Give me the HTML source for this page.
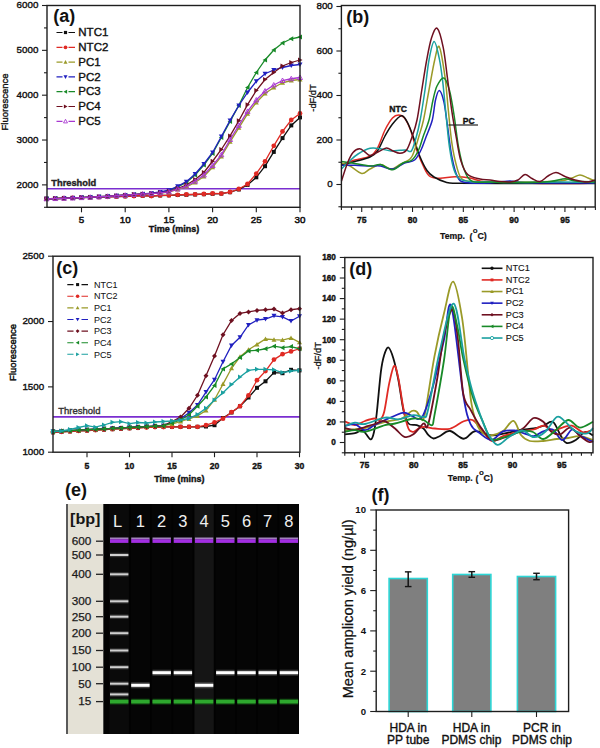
<!DOCTYPE html>
<html><head><meta charset="utf-8"><style>
html,body{margin:0;padding:0;background:#fff;width:600px;height:748px;overflow:hidden}
svg{display:block}
text{font-family:"Liberation Sans", sans-serif}
</style></head><body>
<svg width="600" height="748" viewBox="0 0 600 748" font-family='"Liberation Sans", sans-serif'>
<rect width="600" height="748" fill="#fff"/>
<line x1="44.00" y1="207.30" x2="47.00" y2="207.30" stroke="#1e1e1e" stroke-width="1.1" />
<line x1="42.00" y1="184.88" x2="47.00" y2="184.88" stroke="#1e1e1e" stroke-width="1.1" />
<text x="38.40" y="187.78" font-size="9.8" font-weight="normal" text-anchor="end" fill="#111" stroke="#111" stroke-width="0.38" >2000</text>
<line x1="44.00" y1="162.46" x2="47.00" y2="162.46" stroke="#1e1e1e" stroke-width="1.1" />
<line x1="42.00" y1="140.03" x2="47.00" y2="140.03" stroke="#1e1e1e" stroke-width="1.1" />
<text x="38.40" y="142.93" font-size="9.8" font-weight="normal" text-anchor="end" fill="#111" stroke="#111" stroke-width="0.38" >3000</text>
<line x1="44.00" y1="117.61" x2="47.00" y2="117.61" stroke="#1e1e1e" stroke-width="1.1" />
<line x1="42.00" y1="95.19" x2="47.00" y2="95.19" stroke="#1e1e1e" stroke-width="1.1" />
<text x="38.40" y="98.09" font-size="9.8" font-weight="normal" text-anchor="end" fill="#111" stroke="#111" stroke-width="0.38" >4000</text>
<line x1="44.00" y1="72.77" x2="47.00" y2="72.77" stroke="#1e1e1e" stroke-width="1.1" />
<line x1="42.00" y1="50.34" x2="47.00" y2="50.34" stroke="#1e1e1e" stroke-width="1.1" />
<text x="38.40" y="53.24" font-size="9.8" font-weight="normal" text-anchor="end" fill="#111" stroke="#111" stroke-width="0.38" >5000</text>
<line x1="44.00" y1="27.92" x2="47.00" y2="27.92" stroke="#1e1e1e" stroke-width="1.1" />
<line x1="42.00" y1="5.50" x2="47.00" y2="5.50" stroke="#1e1e1e" stroke-width="1.1" />
<text x="38.40" y="8.40" font-size="9.8" font-weight="normal" text-anchor="end" fill="#111" stroke="#111" stroke-width="0.38" >6000</text>
<line x1="81.50" y1="207.30" x2="81.50" y2="212.30" stroke="#1e1e1e" stroke-width="1.1" />
<text x="81.50" y="223.00" font-size="9.8" font-weight="normal" text-anchor="middle" fill="#111" stroke="#111" stroke-width="0.5" >5</text>
<line x1="125.20" y1="207.30" x2="125.20" y2="212.30" stroke="#1e1e1e" stroke-width="1.1" />
<text x="125.20" y="223.00" font-size="9.8" font-weight="normal" text-anchor="middle" fill="#111" stroke="#111" stroke-width="0.5" >10</text>
<line x1="168.90" y1="207.30" x2="168.90" y2="212.30" stroke="#1e1e1e" stroke-width="1.1" />
<text x="168.90" y="223.00" font-size="9.8" font-weight="normal" text-anchor="middle" fill="#111" stroke="#111" stroke-width="0.5" >15</text>
<line x1="212.60" y1="207.30" x2="212.60" y2="212.30" stroke="#1e1e1e" stroke-width="1.1" />
<text x="212.60" y="223.00" font-size="9.8" font-weight="normal" text-anchor="middle" fill="#111" stroke="#111" stroke-width="0.5" >20</text>
<line x1="256.30" y1="207.30" x2="256.30" y2="212.30" stroke="#1e1e1e" stroke-width="1.1" />
<text x="256.30" y="223.00" font-size="9.8" font-weight="normal" text-anchor="middle" fill="#111" stroke="#111" stroke-width="0.5" >25</text>
<line x1="300.00" y1="207.30" x2="300.00" y2="212.30" stroke="#1e1e1e" stroke-width="1.1" />
<text x="300.00" y="223.00" font-size="9.8" font-weight="normal" text-anchor="middle" fill="#111" stroke="#111" stroke-width="0.5" >30</text>
<text x="174.00" y="232.00" font-size="9" font-weight="bold" text-anchor="middle" fill="#111" stroke="#111" stroke-width="0.38" >Time (mins)</text>
<text transform="translate(8.2,102) rotate(-90)" font-size="9.5" text-anchor="middle" fill="#111" stroke="#111" stroke-width="0.35">Fluorescence</text>
<line x1="47.00" y1="188.80" x2="300.00" y2="188.80" stroke="#7a2ed0" stroke-width="1.6" />
<text x="51.30" y="185.50" font-size="9.3" font-weight="bold" text-anchor="start" fill="#222" stroke="#222" stroke-width="0.38" >Threshold</text>
<path d="M46.54,198.80 L55.28,198.52 L64.02,198.24 L72.76,197.96 L81.50,197.68 L90.24,197.40 L98.98,197.12 L107.72,196.84 L116.46,196.56 L125.20,196.28 L133.94,196.00 L142.68,195.72 L151.42,196.00 L160.16,195.50 L168.90,195.30 L177.64,195.00 L186.38,194.80 L195.12,194.50 L203.86,194.20 L212.60,193.80 L221.34,193.60 L230.08,192.20 L238.82,189.50 L247.56,184.90 L256.30,177.30 L265.04,166.20 L273.78,151.90 L282.52,138.10 L291.26,125.40 L300.00,117.40" fill="none" stroke="#101010" stroke-width="1.3"/>
<rect x="44.54" y="196.80" width="4.00" height="4.00" fill="#101010"/>
<rect x="53.28" y="196.52" width="4.00" height="4.00" fill="#101010"/>
<rect x="62.02" y="196.24" width="4.00" height="4.00" fill="#101010"/>
<rect x="70.76" y="195.96" width="4.00" height="4.00" fill="#101010"/>
<rect x="79.50" y="195.68" width="4.00" height="4.00" fill="#101010"/>
<rect x="88.24" y="195.40" width="4.00" height="4.00" fill="#101010"/>
<rect x="96.98" y="195.12" width="4.00" height="4.00" fill="#101010"/>
<rect x="105.72" y="194.84" width="4.00" height="4.00" fill="#101010"/>
<rect x="114.46" y="194.56" width="4.00" height="4.00" fill="#101010"/>
<rect x="123.20" y="194.28" width="4.00" height="4.00" fill="#101010"/>
<rect x="131.94" y="194.00" width="4.00" height="4.00" fill="#101010"/>
<rect x="140.68" y="193.72" width="4.00" height="4.00" fill="#101010"/>
<rect x="149.42" y="194.00" width="4.00" height="4.00" fill="#101010"/>
<rect x="158.16" y="193.50" width="4.00" height="4.00" fill="#101010"/>
<rect x="166.90" y="193.30" width="4.00" height="4.00" fill="#101010"/>
<rect x="175.64" y="193.00" width="4.00" height="4.00" fill="#101010"/>
<rect x="184.38" y="192.80" width="4.00" height="4.00" fill="#101010"/>
<rect x="193.12" y="192.50" width="4.00" height="4.00" fill="#101010"/>
<rect x="201.86" y="192.20" width="4.00" height="4.00" fill="#101010"/>
<rect x="210.60" y="191.80" width="4.00" height="4.00" fill="#101010"/>
<rect x="219.34" y="191.60" width="4.00" height="4.00" fill="#101010"/>
<rect x="228.08" y="190.20" width="4.00" height="4.00" fill="#101010"/>
<rect x="236.82" y="187.50" width="4.00" height="4.00" fill="#101010"/>
<rect x="245.56" y="182.90" width="4.00" height="4.00" fill="#101010"/>
<rect x="254.30" y="175.30" width="4.00" height="4.00" fill="#101010"/>
<rect x="263.04" y="164.20" width="4.00" height="4.00" fill="#101010"/>
<rect x="271.78" y="149.90" width="4.00" height="4.00" fill="#101010"/>
<rect x="280.52" y="136.10" width="4.00" height="4.00" fill="#101010"/>
<rect x="289.26" y="123.40" width="4.00" height="4.00" fill="#101010"/>
<rect x="298.00" y="115.40" width="4.00" height="4.00" fill="#101010"/>
<path d="M46.54,198.80 L55.28,198.52 L64.02,198.24 L72.76,197.96 L81.50,197.68 L90.24,197.40 L98.98,197.12 L107.72,196.84 L116.46,196.56 L125.20,196.28 L133.94,196.00 L142.68,195.72 L151.42,196.00 L160.16,195.30 L168.90,195.30 L177.64,194.80 L186.38,194.50 L195.12,194.30 L203.86,194.00 L212.60,193.50 L221.34,193.60 L230.08,192.00 L238.82,189.00 L247.56,184.00 L256.30,173.60 L265.04,161.30 L273.78,145.80 L282.52,131.40 L291.26,120.00 L300.00,113.40" fill="none" stroke="#e02a24" stroke-width="1.3"/>
<circle cx="46.54" cy="198.80" r="2.38" fill="#e02a24"/>
<circle cx="55.28" cy="198.52" r="2.38" fill="#e02a24"/>
<circle cx="64.02" cy="198.24" r="2.38" fill="#e02a24"/>
<circle cx="72.76" cy="197.96" r="2.38" fill="#e02a24"/>
<circle cx="81.50" cy="197.68" r="2.38" fill="#e02a24"/>
<circle cx="90.24" cy="197.40" r="2.38" fill="#e02a24"/>
<circle cx="98.98" cy="197.12" r="2.38" fill="#e02a24"/>
<circle cx="107.72" cy="196.84" r="2.38" fill="#e02a24"/>
<circle cx="116.46" cy="196.56" r="2.38" fill="#e02a24"/>
<circle cx="125.20" cy="196.28" r="2.38" fill="#e02a24"/>
<circle cx="133.94" cy="196.00" r="2.38" fill="#e02a24"/>
<circle cx="142.68" cy="195.72" r="2.38" fill="#e02a24"/>
<circle cx="151.42" cy="196.00" r="2.38" fill="#e02a24"/>
<circle cx="160.16" cy="195.30" r="2.38" fill="#e02a24"/>
<circle cx="168.90" cy="195.30" r="2.38" fill="#e02a24"/>
<circle cx="177.64" cy="194.80" r="2.38" fill="#e02a24"/>
<circle cx="186.38" cy="194.50" r="2.38" fill="#e02a24"/>
<circle cx="195.12" cy="194.30" r="2.38" fill="#e02a24"/>
<circle cx="203.86" cy="194.00" r="2.38" fill="#e02a24"/>
<circle cx="212.60" cy="193.50" r="2.38" fill="#e02a24"/>
<circle cx="221.34" cy="193.60" r="2.38" fill="#e02a24"/>
<circle cx="230.08" cy="192.00" r="2.38" fill="#e02a24"/>
<circle cx="238.82" cy="189.00" r="2.38" fill="#e02a24"/>
<circle cx="247.56" cy="184.00" r="2.38" fill="#e02a24"/>
<circle cx="256.30" cy="173.60" r="2.38" fill="#e02a24"/>
<circle cx="265.04" cy="161.30" r="2.38" fill="#e02a24"/>
<circle cx="273.78" cy="145.80" r="2.38" fill="#e02a24"/>
<circle cx="282.52" cy="131.40" r="2.38" fill="#e02a24"/>
<circle cx="291.26" cy="120.00" r="2.38" fill="#e02a24"/>
<circle cx="300.00" cy="113.40" r="2.38" fill="#e02a24"/>
<path d="M46.54,198.80 L55.28,198.56 L64.02,198.28 L72.76,197.96 L81.50,197.60 L90.24,197.20 L98.98,196.76 L107.72,196.28 L116.46,195.76 L125.20,195.20 L133.94,194.60 L142.68,193.96 L151.42,193.70 L160.16,193.00 L168.90,192.20 L177.64,189.50 L186.38,187.00 L195.12,182.50 L203.86,176.50 L212.60,167.20 L221.34,156.50 L230.08,141.80 L238.82,127.80 L247.56,113.80 L256.30,102.50 L265.04,93.50 L273.78,87.50 L282.52,82.75 L291.26,80.50 L300.00,79.50" fill="none" stroke="#9a9a28" stroke-width="1.3"/>
<path d="M46.54,196.30 L49.04,200.80 L44.04,200.80Z" fill="#9a9a28"/>
<path d="M55.28,196.06 L57.78,200.56 L52.78,200.56Z" fill="#9a9a28"/>
<path d="M64.02,195.78 L66.52,200.28 L61.52,200.28Z" fill="#9a9a28"/>
<path d="M72.76,195.46 L75.26,199.96 L70.26,199.96Z" fill="#9a9a28"/>
<path d="M81.50,195.10 L84.00,199.60 L79.00,199.60Z" fill="#9a9a28"/>
<path d="M90.24,194.70 L92.74,199.20 L87.74,199.20Z" fill="#9a9a28"/>
<path d="M98.98,194.26 L101.48,198.76 L96.48,198.76Z" fill="#9a9a28"/>
<path d="M107.72,193.78 L110.22,198.28 L105.22,198.28Z" fill="#9a9a28"/>
<path d="M116.46,193.26 L118.96,197.76 L113.96,197.76Z" fill="#9a9a28"/>
<path d="M125.20,192.70 L127.70,197.20 L122.70,197.20Z" fill="#9a9a28"/>
<path d="M133.94,192.10 L136.44,196.60 L131.44,196.60Z" fill="#9a9a28"/>
<path d="M142.68,191.46 L145.18,195.96 L140.18,195.96Z" fill="#9a9a28"/>
<path d="M151.42,191.20 L153.92,195.70 L148.92,195.70Z" fill="#9a9a28"/>
<path d="M160.16,190.50 L162.66,195.00 L157.66,195.00Z" fill="#9a9a28"/>
<path d="M168.90,189.70 L171.40,194.20 L166.40,194.20Z" fill="#9a9a28"/>
<path d="M177.64,187.00 L180.14,191.50 L175.14,191.50Z" fill="#9a9a28"/>
<path d="M186.38,184.50 L188.88,189.00 L183.88,189.00Z" fill="#9a9a28"/>
<path d="M195.12,180.00 L197.62,184.50 L192.62,184.50Z" fill="#9a9a28"/>
<path d="M203.86,174.00 L206.36,178.50 L201.36,178.50Z" fill="#9a9a28"/>
<path d="M212.60,164.70 L215.10,169.20 L210.10,169.20Z" fill="#9a9a28"/>
<path d="M221.34,154.00 L223.84,158.50 L218.84,158.50Z" fill="#9a9a28"/>
<path d="M230.08,139.30 L232.58,143.80 L227.58,143.80Z" fill="#9a9a28"/>
<path d="M238.82,125.30 L241.32,129.80 L236.32,129.80Z" fill="#9a9a28"/>
<path d="M247.56,111.30 L250.06,115.80 L245.06,115.80Z" fill="#9a9a28"/>
<path d="M256.30,100.00 L258.80,104.50 L253.80,104.50Z" fill="#9a9a28"/>
<path d="M265.04,91.00 L267.54,95.50 L262.54,95.50Z" fill="#9a9a28"/>
<path d="M273.78,85.00 L276.28,89.50 L271.28,89.50Z" fill="#9a9a28"/>
<path d="M282.52,80.25 L285.02,84.75 L280.02,84.75Z" fill="#9a9a28"/>
<path d="M291.26,78.00 L293.76,82.50 L288.76,82.50Z" fill="#9a9a28"/>
<path d="M300.00,77.00 L302.50,81.50 L297.50,81.50Z" fill="#9a9a28"/>
<path d="M46.54,198.80 L55.28,198.56 L64.02,198.28 L72.76,197.96 L81.50,197.60 L90.24,197.20 L98.98,196.76 L107.72,196.28 L116.46,195.76 L125.20,195.20 L133.94,194.60 L142.68,193.96 L151.42,193.40 L160.16,192.30 L168.90,190.60 L177.64,187.00 L186.38,182.50 L195.12,175.00 L203.86,165.00 L212.60,153.50 L221.34,137.50 L230.08,121.40 L238.82,105.40 L247.56,87.50 L256.30,72.50 L265.04,60.00 L273.78,50.00 L282.52,43.00 L291.26,38.75 L300.00,37.00" fill="none" stroke="#188a28" stroke-width="1.3"/>
<path d="M44.04,198.80 L48.54,196.30 L48.54,201.30Z" fill="#188a28"/>
<path d="M52.78,198.56 L57.28,196.06 L57.28,201.06Z" fill="#188a28"/>
<path d="M61.52,198.28 L66.02,195.78 L66.02,200.78Z" fill="#188a28"/>
<path d="M70.26,197.96 L74.76,195.46 L74.76,200.46Z" fill="#188a28"/>
<path d="M79.00,197.60 L83.50,195.10 L83.50,200.10Z" fill="#188a28"/>
<path d="M87.74,197.20 L92.24,194.70 L92.24,199.70Z" fill="#188a28"/>
<path d="M96.48,196.76 L100.98,194.26 L100.98,199.26Z" fill="#188a28"/>
<path d="M105.22,196.28 L109.72,193.78 L109.72,198.78Z" fill="#188a28"/>
<path d="M113.96,195.76 L118.46,193.26 L118.46,198.26Z" fill="#188a28"/>
<path d="M122.70,195.20 L127.20,192.70 L127.20,197.70Z" fill="#188a28"/>
<path d="M131.44,194.60 L135.94,192.10 L135.94,197.10Z" fill="#188a28"/>
<path d="M140.18,193.96 L144.68,191.46 L144.68,196.46Z" fill="#188a28"/>
<path d="M148.92,193.40 L153.42,190.90 L153.42,195.90Z" fill="#188a28"/>
<path d="M157.66,192.30 L162.16,189.80 L162.16,194.80Z" fill="#188a28"/>
<path d="M166.40,190.60 L170.90,188.10 L170.90,193.10Z" fill="#188a28"/>
<path d="M175.14,187.00 L179.64,184.50 L179.64,189.50Z" fill="#188a28"/>
<path d="M183.88,182.50 L188.38,180.00 L188.38,185.00Z" fill="#188a28"/>
<path d="M192.62,175.00 L197.12,172.50 L197.12,177.50Z" fill="#188a28"/>
<path d="M201.36,165.00 L205.86,162.50 L205.86,167.50Z" fill="#188a28"/>
<path d="M210.10,153.50 L214.60,151.00 L214.60,156.00Z" fill="#188a28"/>
<path d="M218.84,137.50 L223.34,135.00 L223.34,140.00Z" fill="#188a28"/>
<path d="M227.58,121.40 L232.08,118.90 L232.08,123.90Z" fill="#188a28"/>
<path d="M236.32,105.40 L240.82,102.90 L240.82,107.90Z" fill="#188a28"/>
<path d="M245.06,87.50 L249.56,85.00 L249.56,90.00Z" fill="#188a28"/>
<path d="M253.80,72.50 L258.30,70.00 L258.30,75.00Z" fill="#188a28"/>
<path d="M262.54,60.00 L267.04,57.50 L267.04,62.50Z" fill="#188a28"/>
<path d="M271.28,50.00 L275.78,47.50 L275.78,52.50Z" fill="#188a28"/>
<path d="M280.02,43.00 L284.52,40.50 L284.52,45.50Z" fill="#188a28"/>
<path d="M288.76,38.75 L293.26,36.25 L293.26,41.25Z" fill="#188a28"/>
<path d="M297.50,37.00 L302.00,34.50 L302.00,39.50Z" fill="#188a28"/>
<path d="M46.54,198.80 L55.28,198.56 L64.02,198.28 L72.76,197.96 L81.50,197.60 L90.24,197.20 L98.98,196.76 L107.72,196.28 L116.46,195.76 L125.20,195.20 L133.94,194.60 L142.68,193.96 L151.42,193.20 L160.16,192.00 L168.90,190.20 L177.64,186.30 L186.38,181.70 L195.12,174.00 L203.86,164.00 L212.60,152.50 L221.34,136.50 L230.08,120.40 L238.82,105.50 L247.56,92.50 L256.30,81.25 L265.04,73.75 L273.78,70.00 L282.52,67.50 L291.26,65.50 L300.00,64.50" fill="none" stroke="#2020c0" stroke-width="1.3"/>
<path d="M46.54,201.30 L49.04,196.80 L44.04,196.80Z" fill="#2020c0"/>
<path d="M55.28,201.06 L57.78,196.56 L52.78,196.56Z" fill="#2020c0"/>
<path d="M64.02,200.78 L66.52,196.28 L61.52,196.28Z" fill="#2020c0"/>
<path d="M72.76,200.46 L75.26,195.96 L70.26,195.96Z" fill="#2020c0"/>
<path d="M81.50,200.10 L84.00,195.60 L79.00,195.60Z" fill="#2020c0"/>
<path d="M90.24,199.70 L92.74,195.20 L87.74,195.20Z" fill="#2020c0"/>
<path d="M98.98,199.26 L101.48,194.76 L96.48,194.76Z" fill="#2020c0"/>
<path d="M107.72,198.78 L110.22,194.28 L105.22,194.28Z" fill="#2020c0"/>
<path d="M116.46,198.26 L118.96,193.76 L113.96,193.76Z" fill="#2020c0"/>
<path d="M125.20,197.70 L127.70,193.20 L122.70,193.20Z" fill="#2020c0"/>
<path d="M133.94,197.10 L136.44,192.60 L131.44,192.60Z" fill="#2020c0"/>
<path d="M142.68,196.46 L145.18,191.96 L140.18,191.96Z" fill="#2020c0"/>
<path d="M151.42,195.70 L153.92,191.20 L148.92,191.20Z" fill="#2020c0"/>
<path d="M160.16,194.50 L162.66,190.00 L157.66,190.00Z" fill="#2020c0"/>
<path d="M168.90,192.70 L171.40,188.20 L166.40,188.20Z" fill="#2020c0"/>
<path d="M177.64,188.80 L180.14,184.30 L175.14,184.30Z" fill="#2020c0"/>
<path d="M186.38,184.20 L188.88,179.70 L183.88,179.70Z" fill="#2020c0"/>
<path d="M195.12,176.50 L197.62,172.00 L192.62,172.00Z" fill="#2020c0"/>
<path d="M203.86,166.50 L206.36,162.00 L201.36,162.00Z" fill="#2020c0"/>
<path d="M212.60,155.00 L215.10,150.50 L210.10,150.50Z" fill="#2020c0"/>
<path d="M221.34,139.00 L223.84,134.50 L218.84,134.50Z" fill="#2020c0"/>
<path d="M230.08,122.90 L232.58,118.40 L227.58,118.40Z" fill="#2020c0"/>
<path d="M238.82,108.00 L241.32,103.50 L236.32,103.50Z" fill="#2020c0"/>
<path d="M247.56,95.00 L250.06,90.50 L245.06,90.50Z" fill="#2020c0"/>
<path d="M256.30,83.75 L258.80,79.25 L253.80,79.25Z" fill="#2020c0"/>
<path d="M265.04,76.25 L267.54,71.75 L262.54,71.75Z" fill="#2020c0"/>
<path d="M273.78,72.50 L276.28,68.00 L271.28,68.00Z" fill="#2020c0"/>
<path d="M282.52,70.00 L285.02,65.50 L280.02,65.50Z" fill="#2020c0"/>
<path d="M291.26,68.00 L293.76,63.50 L288.76,63.50Z" fill="#2020c0"/>
<path d="M300.00,67.00 L302.50,62.50 L297.50,62.50Z" fill="#2020c0"/>
<path d="M46.54,198.80 L55.28,198.56 L64.02,198.28 L72.76,197.96 L81.50,197.60 L90.24,197.20 L98.98,196.76 L107.72,196.28 L116.46,195.76 L125.20,195.20 L133.94,194.60 L142.68,193.96 L151.42,193.60 L160.16,192.80 L168.90,191.60 L177.64,188.50 L186.38,185.00 L195.12,179.50 L203.86,172.50 L212.60,161.25 L221.34,149.50 L230.08,135.90 L238.82,120.70 L247.56,104.70 L256.30,90.50 L265.04,79.50 L273.78,72.50 L282.52,66.00 L291.26,62.50 L300.00,60.00" fill="none" stroke="#6e1020" stroke-width="1.3"/>
<path d="M49.04,198.80 L44.54,196.30 L44.54,201.30Z" fill="#6e1020"/>
<path d="M57.78,198.56 L53.28,196.06 L53.28,201.06Z" fill="#6e1020"/>
<path d="M66.52,198.28 L62.02,195.78 L62.02,200.78Z" fill="#6e1020"/>
<path d="M75.26,197.96 L70.76,195.46 L70.76,200.46Z" fill="#6e1020"/>
<path d="M84.00,197.60 L79.50,195.10 L79.50,200.10Z" fill="#6e1020"/>
<path d="M92.74,197.20 L88.24,194.70 L88.24,199.70Z" fill="#6e1020"/>
<path d="M101.48,196.76 L96.98,194.26 L96.98,199.26Z" fill="#6e1020"/>
<path d="M110.22,196.28 L105.72,193.78 L105.72,198.78Z" fill="#6e1020"/>
<path d="M118.96,195.76 L114.46,193.26 L114.46,198.26Z" fill="#6e1020"/>
<path d="M127.70,195.20 L123.20,192.70 L123.20,197.70Z" fill="#6e1020"/>
<path d="M136.44,194.60 L131.94,192.10 L131.94,197.10Z" fill="#6e1020"/>
<path d="M145.18,193.96 L140.68,191.46 L140.68,196.46Z" fill="#6e1020"/>
<path d="M153.92,193.60 L149.42,191.10 L149.42,196.10Z" fill="#6e1020"/>
<path d="M162.66,192.80 L158.16,190.30 L158.16,195.30Z" fill="#6e1020"/>
<path d="M171.40,191.60 L166.90,189.10 L166.90,194.10Z" fill="#6e1020"/>
<path d="M180.14,188.50 L175.64,186.00 L175.64,191.00Z" fill="#6e1020"/>
<path d="M188.88,185.00 L184.38,182.50 L184.38,187.50Z" fill="#6e1020"/>
<path d="M197.62,179.50 L193.12,177.00 L193.12,182.00Z" fill="#6e1020"/>
<path d="M206.36,172.50 L201.86,170.00 L201.86,175.00Z" fill="#6e1020"/>
<path d="M215.10,161.25 L210.60,158.75 L210.60,163.75Z" fill="#6e1020"/>
<path d="M223.84,149.50 L219.34,147.00 L219.34,152.00Z" fill="#6e1020"/>
<path d="M232.58,135.90 L228.08,133.40 L228.08,138.40Z" fill="#6e1020"/>
<path d="M241.32,120.70 L236.82,118.20 L236.82,123.20Z" fill="#6e1020"/>
<path d="M250.06,104.70 L245.56,102.20 L245.56,107.20Z" fill="#6e1020"/>
<path d="M258.80,90.50 L254.30,88.00 L254.30,93.00Z" fill="#6e1020"/>
<path d="M267.54,79.50 L263.04,77.00 L263.04,82.00Z" fill="#6e1020"/>
<path d="M276.28,72.50 L271.78,70.00 L271.78,75.00Z" fill="#6e1020"/>
<path d="M285.02,66.00 L280.52,63.50 L280.52,68.50Z" fill="#6e1020"/>
<path d="M293.76,62.50 L289.26,60.00 L289.26,65.00Z" fill="#6e1020"/>
<path d="M302.50,60.00 L298.00,57.50 L298.00,62.50Z" fill="#6e1020"/>
<path d="M46.54,198.80 L55.28,198.56 L64.02,198.28 L72.76,197.96 L81.50,197.60 L90.24,197.20 L98.98,196.76 L107.72,196.28 L116.46,195.76 L125.20,195.20 L133.94,194.60 L142.68,193.96 L151.42,193.60 L160.16,192.90 L168.90,191.80 L177.64,189.00 L186.38,186.25 L195.12,181.25 L203.86,175.00 L212.60,165.50 L221.34,154.80 L230.08,139.50 L238.82,125.40 L247.56,111.40 L256.30,100.00 L265.04,91.00 L273.78,85.00 L282.52,80.50 L291.26,78.75 L300.00,77.50" fill="none" stroke="#a838d0" stroke-width="1.3"/>
<path d="M46.54,196.30 L49.04,200.80 L44.04,200.80Z" fill="none" stroke="#a838d0" stroke-width="0.9"/>
<path d="M55.28,196.06 L57.78,200.56 L52.78,200.56Z" fill="none" stroke="#a838d0" stroke-width="0.9"/>
<path d="M64.02,195.78 L66.52,200.28 L61.52,200.28Z" fill="none" stroke="#a838d0" stroke-width="0.9"/>
<path d="M72.76,195.46 L75.26,199.96 L70.26,199.96Z" fill="none" stroke="#a838d0" stroke-width="0.9"/>
<path d="M81.50,195.10 L84.00,199.60 L79.00,199.60Z" fill="none" stroke="#a838d0" stroke-width="0.9"/>
<path d="M90.24,194.70 L92.74,199.20 L87.74,199.20Z" fill="none" stroke="#a838d0" stroke-width="0.9"/>
<path d="M98.98,194.26 L101.48,198.76 L96.48,198.76Z" fill="none" stroke="#a838d0" stroke-width="0.9"/>
<path d="M107.72,193.78 L110.22,198.28 L105.22,198.28Z" fill="none" stroke="#a838d0" stroke-width="0.9"/>
<path d="M116.46,193.26 L118.96,197.76 L113.96,197.76Z" fill="none" stroke="#a838d0" stroke-width="0.9"/>
<path d="M125.20,192.70 L127.70,197.20 L122.70,197.20Z" fill="none" stroke="#a838d0" stroke-width="0.9"/>
<path d="M133.94,192.10 L136.44,196.60 L131.44,196.60Z" fill="none" stroke="#a838d0" stroke-width="0.9"/>
<path d="M142.68,191.46 L145.18,195.96 L140.18,195.96Z" fill="none" stroke="#a838d0" stroke-width="0.9"/>
<path d="M151.42,191.10 L153.92,195.60 L148.92,195.60Z" fill="none" stroke="#a838d0" stroke-width="0.9"/>
<path d="M160.16,190.40 L162.66,194.90 L157.66,194.90Z" fill="none" stroke="#a838d0" stroke-width="0.9"/>
<path d="M168.90,189.30 L171.40,193.80 L166.40,193.80Z" fill="none" stroke="#a838d0" stroke-width="0.9"/>
<path d="M177.64,186.50 L180.14,191.00 L175.14,191.00Z" fill="none" stroke="#a838d0" stroke-width="0.9"/>
<path d="M186.38,183.75 L188.88,188.25 L183.88,188.25Z" fill="none" stroke="#a838d0" stroke-width="0.9"/>
<path d="M195.12,178.75 L197.62,183.25 L192.62,183.25Z" fill="none" stroke="#a838d0" stroke-width="0.9"/>
<path d="M203.86,172.50 L206.36,177.00 L201.36,177.00Z" fill="none" stroke="#a838d0" stroke-width="0.9"/>
<path d="M212.60,163.00 L215.10,167.50 L210.10,167.50Z" fill="none" stroke="#a838d0" stroke-width="0.9"/>
<path d="M221.34,152.30 L223.84,156.80 L218.84,156.80Z" fill="none" stroke="#a838d0" stroke-width="0.9"/>
<path d="M230.08,137.00 L232.58,141.50 L227.58,141.50Z" fill="none" stroke="#a838d0" stroke-width="0.9"/>
<path d="M238.82,122.90 L241.32,127.40 L236.32,127.40Z" fill="none" stroke="#a838d0" stroke-width="0.9"/>
<path d="M247.56,108.90 L250.06,113.40 L245.06,113.40Z" fill="none" stroke="#a838d0" stroke-width="0.9"/>
<path d="M256.30,97.50 L258.80,102.00 L253.80,102.00Z" fill="none" stroke="#a838d0" stroke-width="0.9"/>
<path d="M265.04,88.50 L267.54,93.00 L262.54,93.00Z" fill="none" stroke="#a838d0" stroke-width="0.9"/>
<path d="M273.78,82.50 L276.28,87.00 L271.28,87.00Z" fill="none" stroke="#a838d0" stroke-width="0.9"/>
<path d="M282.52,78.00 L285.02,82.50 L280.02,82.50Z" fill="none" stroke="#a838d0" stroke-width="0.9"/>
<path d="M291.26,76.25 L293.76,80.75 L288.76,80.75Z" fill="none" stroke="#a838d0" stroke-width="0.9"/>
<path d="M300.00,75.00 L302.50,79.50 L297.50,79.50Z" fill="none" stroke="#a838d0" stroke-width="0.9"/>
<path d="M56.5,32.50 L62.5,32.50 M68.5,32.50 L75,32.50" stroke="#101010" stroke-width="1.2"/>
<rect x="63.90" y="30.90" width="3.20" height="3.20" fill="#101010"/>
<text x="78.30" y="36.20" font-size="11.5" font-weight="normal" text-anchor="start" fill="#111" stroke="#111" stroke-width="0.38" >NTC1</text>
<path d="M56.5,47.30 L62.5,47.30 M68.5,47.30 L75,47.30" stroke="#e02a24" stroke-width="1.2"/>
<circle cx="65.50" cy="47.30" r="1.90" fill="#e02a24"/>
<text x="78.30" y="51.00" font-size="11.5" font-weight="normal" text-anchor="start" fill="#111" stroke="#111" stroke-width="0.38" >NTC2</text>
<path d="M56.5,62.10 L62.5,62.10 M68.5,62.10 L75,62.10" stroke="#9a9a28" stroke-width="1.2"/>
<path d="M65.50,60.10 L67.50,63.70 L63.50,63.70Z" fill="#9a9a28"/>
<text x="78.30" y="65.80" font-size="11.5" font-weight="normal" text-anchor="start" fill="#111" stroke="#111" stroke-width="0.38" >PC1</text>
<path d="M56.5,76.90 L62.5,76.90 M68.5,76.90 L75,76.90" stroke="#2020c0" stroke-width="1.2"/>
<path d="M65.50,78.90 L67.50,75.30 L63.50,75.30Z" fill="#2020c0"/>
<text x="78.30" y="80.60" font-size="11.5" font-weight="normal" text-anchor="start" fill="#111" stroke="#111" stroke-width="0.38" >PC2</text>
<path d="M56.5,91.70 L62.5,91.70 M68.5,91.70 L75,91.70" stroke="#188a28" stroke-width="1.2"/>
<path d="M63.50,91.70 L67.10,89.70 L67.10,93.70Z" fill="#188a28"/>
<text x="78.30" y="95.40" font-size="11.5" font-weight="normal" text-anchor="start" fill="#111" stroke="#111" stroke-width="0.38" >PC3</text>
<path d="M56.5,106.50 L62.5,106.50 M68.5,106.50 L75,106.50" stroke="#6e1020" stroke-width="1.2"/>
<path d="M67.50,106.50 L63.90,104.50 L63.90,108.50Z" fill="#6e1020"/>
<text x="78.30" y="110.20" font-size="11.5" font-weight="normal" text-anchor="start" fill="#111" stroke="#111" stroke-width="0.38" >PC4</text>
<path d="M56.5,121.30 L62.5,121.30 M68.5,121.30 L75,121.30" stroke="#a838d0" stroke-width="1.2"/>
<path d="M65.50,119.30 L67.50,122.90 L63.50,122.90Z" fill="none" stroke="#a838d0" stroke-width="0.9"/>
<text x="78.30" y="125.00" font-size="11.5" font-weight="normal" text-anchor="start" fill="#111" stroke="#111" stroke-width="0.38" >PC5</text>
<text x="53.30" y="22.30" font-size="18" font-weight="bold" text-anchor="start" fill="#111" >(a)</text>
<rect x="47.00" y="5.50" width="253.00" height="201.80" fill="none" stroke="#1e1e1e" stroke-width="1.4"/>
<line x1="338.40" y1="206.75" x2="341.40" y2="206.75" stroke="#1e1e1e" stroke-width="1.1" />
<line x1="336.40" y1="184.50" x2="341.40" y2="184.50" stroke="#1e1e1e" stroke-width="1.1" />
<text x="332.80" y="187.40" font-size="9.8" font-weight="normal" text-anchor="end" fill="#111" stroke="#111" stroke-width="0.38" >0</text>
<line x1="338.40" y1="162.25" x2="341.40" y2="162.25" stroke="#1e1e1e" stroke-width="1.1" />
<line x1="336.40" y1="140.00" x2="341.40" y2="140.00" stroke="#1e1e1e" stroke-width="1.1" />
<text x="332.80" y="142.90" font-size="9.8" font-weight="normal" text-anchor="end" fill="#111" stroke="#111" stroke-width="0.38" >200</text>
<line x1="338.40" y1="117.75" x2="341.40" y2="117.75" stroke="#1e1e1e" stroke-width="1.1" />
<line x1="336.40" y1="95.50" x2="341.40" y2="95.50" stroke="#1e1e1e" stroke-width="1.1" />
<text x="332.80" y="98.40" font-size="9.8" font-weight="normal" text-anchor="end" fill="#111" stroke="#111" stroke-width="0.38" >400</text>
<line x1="338.40" y1="73.25" x2="341.40" y2="73.25" stroke="#1e1e1e" stroke-width="1.1" />
<line x1="336.40" y1="51.00" x2="341.40" y2="51.00" stroke="#1e1e1e" stroke-width="1.1" />
<text x="332.80" y="53.90" font-size="9.8" font-weight="normal" text-anchor="end" fill="#111" stroke="#111" stroke-width="0.38" >600</text>
<line x1="338.40" y1="28.75" x2="341.40" y2="28.75" stroke="#1e1e1e" stroke-width="1.1" />
<line x1="336.40" y1="6.50" x2="341.40" y2="6.50" stroke="#1e1e1e" stroke-width="1.1" />
<text x="332.80" y="9.40" font-size="9.8" font-weight="normal" text-anchor="end" fill="#111" stroke="#111" stroke-width="0.38" >800</text>
<line x1="341.40" y1="207.00" x2="341.40" y2="210.00" stroke="#1e1e1e" stroke-width="1.1" />
<line x1="351.56" y1="207.00" x2="351.56" y2="210.00" stroke="#1e1e1e" stroke-width="1.1" />
<line x1="361.72" y1="207.00" x2="361.72" y2="212.00" stroke="#1e1e1e" stroke-width="1.1" />
<text x="361.72" y="223.00" font-size="8.6" font-weight="bold" text-anchor="middle" fill="#111" stroke="#111" stroke-width="0.38" >75</text>
<line x1="371.88" y1="207.00" x2="371.88" y2="210.00" stroke="#1e1e1e" stroke-width="1.1" />
<line x1="382.04" y1="207.00" x2="382.04" y2="210.00" stroke="#1e1e1e" stroke-width="1.1" />
<line x1="392.20" y1="207.00" x2="392.20" y2="210.00" stroke="#1e1e1e" stroke-width="1.1" />
<line x1="402.36" y1="207.00" x2="402.36" y2="210.00" stroke="#1e1e1e" stroke-width="1.1" />
<line x1="412.52" y1="207.00" x2="412.52" y2="212.00" stroke="#1e1e1e" stroke-width="1.1" />
<text x="412.52" y="223.00" font-size="8.6" font-weight="bold" text-anchor="middle" fill="#111" stroke="#111" stroke-width="0.38" >80</text>
<line x1="422.68" y1="207.00" x2="422.68" y2="210.00" stroke="#1e1e1e" stroke-width="1.1" />
<line x1="432.84" y1="207.00" x2="432.84" y2="210.00" stroke="#1e1e1e" stroke-width="1.1" />
<line x1="443.00" y1="207.00" x2="443.00" y2="210.00" stroke="#1e1e1e" stroke-width="1.1" />
<line x1="453.16" y1="207.00" x2="453.16" y2="210.00" stroke="#1e1e1e" stroke-width="1.1" />
<line x1="463.32" y1="207.00" x2="463.32" y2="212.00" stroke="#1e1e1e" stroke-width="1.1" />
<text x="463.32" y="223.00" font-size="8.6" font-weight="bold" text-anchor="middle" fill="#111" stroke="#111" stroke-width="0.38" >85</text>
<line x1="473.48" y1="207.00" x2="473.48" y2="210.00" stroke="#1e1e1e" stroke-width="1.1" />
<line x1="483.64" y1="207.00" x2="483.64" y2="210.00" stroke="#1e1e1e" stroke-width="1.1" />
<line x1="493.80" y1="207.00" x2="493.80" y2="210.00" stroke="#1e1e1e" stroke-width="1.1" />
<line x1="503.96" y1="207.00" x2="503.96" y2="210.00" stroke="#1e1e1e" stroke-width="1.1" />
<line x1="514.12" y1="207.00" x2="514.12" y2="212.00" stroke="#1e1e1e" stroke-width="1.1" />
<text x="514.12" y="223.00" font-size="8.6" font-weight="bold" text-anchor="middle" fill="#111" stroke="#111" stroke-width="0.38" >90</text>
<line x1="524.28" y1="207.00" x2="524.28" y2="210.00" stroke="#1e1e1e" stroke-width="1.1" />
<line x1="534.44" y1="207.00" x2="534.44" y2="210.00" stroke="#1e1e1e" stroke-width="1.1" />
<line x1="544.60" y1="207.00" x2="544.60" y2="210.00" stroke="#1e1e1e" stroke-width="1.1" />
<line x1="554.76" y1="207.00" x2="554.76" y2="210.00" stroke="#1e1e1e" stroke-width="1.1" />
<line x1="564.92" y1="207.00" x2="564.92" y2="212.00" stroke="#1e1e1e" stroke-width="1.1" />
<text x="564.92" y="223.00" font-size="8.6" font-weight="bold" text-anchor="middle" fill="#111" stroke="#111" stroke-width="0.38" >95</text>
<line x1="575.08" y1="207.00" x2="575.08" y2="210.00" stroke="#1e1e1e" stroke-width="1.1" />
<line x1="585.24" y1="207.00" x2="585.24" y2="210.00" stroke="#1e1e1e" stroke-width="1.1" />
<line x1="595.40" y1="207.00" x2="595.40" y2="210.00" stroke="#1e1e1e" stroke-width="1.1" />
<text x="440.00" y="239.20" font-size="8.7" font-weight="bold" text-anchor="start" fill="#111" stroke="#111" stroke-width="0.2" >Temp.</text>
<text x="469.50" y="240.00" font-size="9" font-weight="bold" text-anchor="start" fill="#111" stroke="#111" stroke-width="0.2" >(</text>
<text x="472.80" y="232.60" font-size="8" font-weight="bold" text-anchor="start" fill="#111" stroke="#111" stroke-width="0.1" >o</text>
<text x="477.40" y="239.20" font-size="8.9" font-weight="bold" text-anchor="start" fill="#111" stroke="#111" stroke-width="0.2" >C)</text>
<text transform="translate(316,98) rotate(-90)" font-size="9.3" text-anchor="middle" fill="#111" stroke="#111" stroke-width="0.3">-dF/dT</text>
<path d="M341.40,164.50 C343.67,163.75 350.23,161.38 355.00,160.00 C359.77,158.62 366.25,158.25 370.00,156.25 C373.75,154.25 375.00,152.38 377.50,148.00 C380.00,143.62 382.50,135.00 385.00,130.00 C387.50,125.00 390.25,120.50 392.50,118.00 C394.75,115.50 396.50,115.00 398.50,115.00 C400.50,115.00 402.50,115.50 404.50,118.00 C406.50,120.50 408.50,124.75 410.50,130.00 C412.50,135.25 414.25,143.25 416.50,149.50 C418.75,155.75 421.75,163.00 424.00,167.50 C426.25,172.00 427.33,174.70 430.00,176.50 C432.67,178.30 435.83,178.27 440.00,178.30 C444.17,178.33 450.00,176.75 455.00,176.70 C460.00,176.65 465.00,177.12 470.00,178.00 C475.00,178.88 476.67,181.17 485.00,182.00 C493.33,182.83 507.50,182.75 520.00,183.00 C532.50,183.25 547.50,183.50 560.00,183.50 C572.50,183.50 589.17,183.08 595.00,183.00" fill="none" stroke="#e02a24" stroke-width="1.5"/>
<path d="M341.40,165.00 C343.67,164.42 350.23,162.83 355.00,161.50 C359.77,160.17 366.25,158.75 370.00,157.00 C373.75,155.25 375.00,154.50 377.50,151.00 C380.00,147.50 382.50,140.50 385.00,136.00 C387.50,131.50 389.75,127.38 392.50,124.00 C395.25,120.62 399.00,116.00 401.50,115.75 C404.00,115.50 405.50,118.88 407.50,122.50 C409.50,126.12 411.50,132.00 413.50,137.50 C415.50,143.00 417.25,150.00 419.50,155.50 C421.75,161.00 424.58,166.92 427.00,170.50 C429.42,174.08 430.72,175.00 434.00,177.00 C437.28,179.00 442.65,181.45 446.70,182.50 C450.75,183.55 449.42,183.13 458.30,183.30 C467.18,183.47 477.22,183.47 500.00,183.50 C522.78,183.53 579.17,183.50 595.00,183.50" fill="none" stroke="#101010" stroke-width="1.5"/>
<path d="M341.40,163.00 C342.83,163.50 346.61,164.25 350.00,166.00 C353.39,167.75 358.42,173.00 361.75,173.50 C365.08,174.00 366.88,170.50 370.00,169.00 C373.12,167.50 377.00,164.50 380.50,164.50 C384.00,164.50 387.75,169.00 391.00,169.00 C394.25,169.00 396.75,166.25 400.00,164.50 C403.25,162.75 408.07,160.92 410.50,158.50 C412.93,156.08 413.18,153.75 414.60,150.00 C416.02,146.25 417.52,141.00 419.00,136.00 C420.48,131.00 421.83,127.67 423.50,120.00 C425.17,112.33 427.13,100.00 429.00,90.00 C430.87,80.00 432.98,67.20 434.70,60.00 C436.42,52.80 437.58,44.00 439.30,46.80 C441.02,49.60 443.48,66.12 445.00,76.80 C446.52,87.48 447.27,99.92 448.40,110.90 C449.53,121.88 450.47,133.60 451.80,142.70 C453.13,151.80 454.70,159.45 456.40,165.50 C458.10,171.55 458.90,176.33 462.00,179.00 C465.10,181.67 468.67,181.00 475.00,181.50 C481.33,182.00 490.83,181.92 500.00,182.00 C509.17,182.08 520.00,182.17 530.00,182.00 C540.00,181.83 553.00,181.67 560.00,181.00 C567.00,180.33 568.67,179.00 572.00,178.00 C575.33,177.00 577.33,175.00 580.00,175.00 C582.67,175.00 585.50,177.00 588.00,178.00 C590.50,179.00 593.83,180.50 595.00,181.00" fill="none" stroke="#9a9a28" stroke-width="1.5"/>
<path d="M341.40,165.25 C343.67,165.25 350.23,165.12 355.00,165.25 C359.77,165.38 365.75,165.88 370.00,166.00 C374.25,166.12 376.75,165.50 380.50,166.00 C384.25,166.50 388.50,169.50 392.50,169.00 C396.50,168.50 400.82,164.50 404.50,163.00 C408.18,161.50 411.85,162.17 414.60,160.00 C417.35,157.83 419.10,153.83 421.00,150.00 C422.90,146.17 424.12,142.00 426.00,137.00 C427.88,132.00 430.72,126.17 432.30,120.00 C433.88,113.83 434.33,104.92 435.50,100.00 C436.67,95.08 437.90,90.20 439.30,90.50 C440.70,90.80 442.57,96.13 443.90,101.80 C445.23,107.47 445.98,115.40 447.30,124.50 C448.62,133.60 450.10,147.68 451.80,156.40 C453.50,165.12 455.22,172.45 457.50,176.80 C459.78,181.15 460.08,181.47 465.50,182.50 C470.92,183.53 482.58,183.25 490.00,183.00 C497.42,182.75 505.00,181.08 510.00,181.00 C515.00,180.92 511.67,182.17 520.00,182.50 C528.33,182.83 547.50,182.92 560.00,183.00 C572.50,183.08 589.17,183.00 595.00,183.00" fill="none" stroke="#2020c0" stroke-width="1.5"/>
<path d="M341.40,169.00 C342.67,167.75 346.23,164.00 349.00,161.50 C351.77,159.00 354.50,156.20 358.00,154.00 C361.50,151.80 366.25,149.18 370.00,148.30 C373.75,147.43 377.00,148.30 380.50,148.75 C384.00,149.20 387.75,150.75 391.00,151.00 C394.25,151.25 397.50,150.42 400.00,150.25 C402.50,150.08 404.10,149.88 406.00,150.00 C407.90,150.12 409.73,153.00 411.40,151.00 C413.07,149.00 414.53,143.17 416.00,138.00 C417.47,132.83 418.70,128.00 420.20,120.00 C421.70,112.00 423.53,100.00 425.00,90.00 C426.47,80.00 427.48,68.07 429.00,60.00 C430.52,51.93 432.38,41.83 434.10,41.60 C435.82,41.37 437.87,51.97 439.30,58.60 C440.73,65.23 441.57,71.92 442.70,81.40 C443.83,90.88 444.97,104.52 446.10,115.50 C447.23,126.48 448.17,138.22 449.50,147.30 C450.83,156.38 452.38,164.72 454.10,170.00 C455.82,175.28 457.15,177.08 459.80,179.00 C462.45,180.92 464.97,181.00 470.00,181.50 C475.03,182.00 481.67,181.83 490.00,182.00 C498.33,182.17 508.33,182.50 520.00,182.50 C531.67,182.50 547.50,182.00 560.00,182.00 C572.50,182.00 589.17,182.42 595.00,182.50" fill="none" stroke="#1aa0a0" stroke-width="1.5"/>
<path d="M341.40,161.50 C343.17,161.75 347.23,162.25 352.00,163.00 C356.77,163.75 365.25,165.75 370.00,166.00 C374.75,166.25 376.75,163.88 380.50,164.50 C384.25,165.12 388.75,170.00 392.50,169.75 C396.25,169.50 399.75,164.62 403.00,163.00 C406.25,161.38 409.40,162.17 412.00,160.00 C414.60,157.83 416.77,153.83 418.60,150.00 C420.43,146.17 421.27,142.00 423.00,137.00 C424.73,132.00 427.33,126.17 429.00,120.00 C430.67,113.83 431.67,105.67 433.00,100.00 C434.33,94.33 435.18,89.67 437.00,86.00 C438.82,82.33 441.82,77.25 443.90,78.00 C445.98,78.75 447.80,84.25 449.50,90.50 C451.20,96.75 452.58,106.03 454.10,115.50 C455.62,124.97 456.90,138.22 458.60,147.30 C460.30,156.38 462.02,164.32 464.30,170.00 C466.58,175.68 468.02,179.40 472.30,181.40 C476.58,183.40 482.05,181.82 490.00,182.00 C497.95,182.18 510.00,182.58 520.00,182.50 C530.00,182.42 542.50,182.12 550.00,181.50 C557.50,180.88 560.83,178.83 565.00,178.75 C569.17,178.67 570.00,180.46 575.00,181.00 C580.00,181.54 591.67,181.83 595.00,182.00" fill="none" stroke="#188a28" stroke-width="1.5"/>
<path d="M341.50,181.00 C342.50,178.00 345.58,167.75 347.50,163.00 C349.42,158.25 351.00,154.88 353.00,152.50 C355.00,150.12 357.50,148.83 359.50,148.75 C361.50,148.67 363.25,150.88 365.00,152.00 C366.75,153.12 367.83,155.50 370.00,155.50 C372.17,155.50 375.25,153.25 378.00,152.00 C380.75,150.75 384.00,148.17 386.50,148.00 C389.00,147.83 390.75,150.12 393.00,151.00 C395.25,151.88 397.73,153.42 400.00,153.25 C402.27,153.08 404.60,152.71 406.60,150.00 C408.60,147.29 410.27,142.00 412.00,137.00 C413.73,132.00 415.37,127.83 417.00,120.00 C418.63,112.17 420.18,100.00 421.80,90.00 C423.42,80.00 425.08,68.67 426.70,60.00 C428.32,51.33 429.75,43.27 431.50,38.00 C433.25,32.73 435.25,26.85 437.20,28.40 C439.15,29.95 441.52,39.23 443.20,47.30 C444.88,55.37 445.87,66.20 447.30,76.80 C448.73,87.40 450.28,100.67 451.80,110.90 C453.32,121.13 454.88,129.87 456.40,138.20 C457.92,146.53 459.02,154.85 460.90,160.90 C462.78,166.95 464.52,171.48 467.70,174.50 C470.88,177.52 476.28,178.08 480.00,179.00 C483.72,179.92 486.67,179.58 490.00,180.00 C493.33,180.42 496.67,181.17 500.00,181.50 C503.33,181.83 507.00,182.25 510.00,182.00 C513.00,181.75 515.50,181.25 518.00,180.00 C520.50,178.75 522.67,174.75 525.00,174.50 C527.33,174.25 529.50,177.33 532.00,178.50 C534.50,179.67 537.33,181.92 540.00,181.50 C542.67,181.08 545.33,177.50 548.00,176.00 C550.67,174.50 553.17,172.42 556.00,172.50 C558.83,172.58 561.83,175.25 565.00,176.50 C568.17,177.75 571.33,179.08 575.00,180.00 C578.67,180.92 583.67,182.00 587.00,182.00 C590.33,182.00 593.67,180.33 595.00,180.00" fill="none" stroke="#6e1020" stroke-width="1.5"/>
<text x="389.20" y="111.50" font-size="8.6" font-weight="bold" text-anchor="start" fill="#111" stroke="#111" stroke-width="0.38" >NTC</text>
<line x1="448.40" y1="125.00" x2="478.00" y2="125.00" stroke="#222" stroke-width="1.2" />
<text x="462.80" y="123.80" font-size="8.6" font-weight="bold" text-anchor="start" fill="#111" stroke="#111" stroke-width="0.38" >PC</text>
<text x="346.20" y="23.30" font-size="18" font-weight="bold" text-anchor="start" fill="#111" >(b)</text>
<rect x="341.40" y="5.50" width="253.80" height="201.50" fill="none" stroke="#1e1e1e" stroke-width="1.4"/>
<line x1="48.00" y1="452.20" x2="53.00" y2="452.20" stroke="#1e1e1e" stroke-width="1.1" />
<text x="44.20" y="455.10" font-size="9.8" font-weight="normal" text-anchor="end" fill="#111" stroke="#111" stroke-width="0.38" >1000</text>
<line x1="48.00" y1="386.87" x2="53.00" y2="386.87" stroke="#1e1e1e" stroke-width="1.1" />
<text x="44.20" y="389.77" font-size="9.8" font-weight="normal" text-anchor="end" fill="#111" stroke="#111" stroke-width="0.38" >1500</text>
<line x1="48.00" y1="321.53" x2="53.00" y2="321.53" stroke="#1e1e1e" stroke-width="1.1" />
<text x="44.20" y="324.43" font-size="9.8" font-weight="normal" text-anchor="end" fill="#111" stroke="#111" stroke-width="0.38" >2000</text>
<line x1="48.00" y1="256.20" x2="53.00" y2="256.20" stroke="#1e1e1e" stroke-width="1.1" />
<text x="44.20" y="259.10" font-size="9.8" font-weight="normal" text-anchor="end" fill="#111" stroke="#111" stroke-width="0.38" >2500</text>
<line x1="87.00" y1="452.20" x2="87.00" y2="457.20" stroke="#1e1e1e" stroke-width="1.1" />
<text x="87.00" y="468.70" font-size="8.6" font-weight="bold" text-anchor="middle" fill="#111" stroke="#111" stroke-width="0.38" >5</text>
<line x1="129.50" y1="452.20" x2="129.50" y2="457.20" stroke="#1e1e1e" stroke-width="1.1" />
<text x="129.50" y="468.70" font-size="8.6" font-weight="bold" text-anchor="middle" fill="#111" stroke="#111" stroke-width="0.38" >10</text>
<line x1="172.00" y1="452.20" x2="172.00" y2="457.20" stroke="#1e1e1e" stroke-width="1.1" />
<text x="172.00" y="468.70" font-size="8.6" font-weight="bold" text-anchor="middle" fill="#111" stroke="#111" stroke-width="0.38" >15</text>
<line x1="214.50" y1="452.20" x2="214.50" y2="457.20" stroke="#1e1e1e" stroke-width="1.1" />
<text x="214.50" y="468.70" font-size="8.6" font-weight="bold" text-anchor="middle" fill="#111" stroke="#111" stroke-width="0.38" >20</text>
<line x1="257.00" y1="452.20" x2="257.00" y2="457.20" stroke="#1e1e1e" stroke-width="1.1" />
<text x="257.00" y="468.70" font-size="8.6" font-weight="bold" text-anchor="middle" fill="#111" stroke="#111" stroke-width="0.38" >25</text>
<line x1="299.50" y1="452.20" x2="299.50" y2="457.20" stroke="#1e1e1e" stroke-width="1.1" />
<text x="299.50" y="468.70" font-size="8.6" font-weight="bold" text-anchor="middle" fill="#111" stroke="#111" stroke-width="0.38" >30</text>
<text x="179.30" y="481.50" font-size="9" font-weight="bold" text-anchor="middle" fill="#111" stroke="#111" stroke-width="0.38" >Time (mins)</text>
<text transform="translate(16,352.5) rotate(-90)" font-size="9.5" text-anchor="middle" fill="#111" stroke="#111" stroke-width="0.45">Fluorescence</text>
<line x1="53.00" y1="416.90" x2="299.90" y2="416.90" stroke="#7a2ed0" stroke-width="1.6" />
<text x="58.20" y="414.30" font-size="9.5" font-weight="normal" text-anchor="start" fill="#333" stroke="#333" stroke-width="0.38" >Threshold</text>
<path d="M53.00,432.30 L61.50,431.85 L70.00,431.40 L78.50,430.95 L87.00,430.50 L95.50,430.05 L104.00,429.60 L112.50,429.15 L121.00,428.70 L129.50,428.25 L138.00,427.80 L146.50,427.00 L155.00,427.00 L163.50,426.80 L172.00,426.80 L180.50,426.80 L189.00,426.80 L197.50,426.80 L206.00,426.50 L214.50,425.20 L223.00,418.00 L231.50,412.50 L240.00,406.20 L248.50,397.50 L257.00,387.80 L265.50,381.30 L274.00,372.60 L282.50,373.20 L291.00,369.80 L299.50,370.40" fill="none" stroke="#101010" stroke-width="1.3"/>
<rect x="51.00" y="430.30" width="4.00" height="4.00" fill="#101010"/>
<rect x="59.50" y="429.85" width="4.00" height="4.00" fill="#101010"/>
<rect x="68.00" y="429.40" width="4.00" height="4.00" fill="#101010"/>
<rect x="76.50" y="428.95" width="4.00" height="4.00" fill="#101010"/>
<rect x="85.00" y="428.50" width="4.00" height="4.00" fill="#101010"/>
<rect x="93.50" y="428.05" width="4.00" height="4.00" fill="#101010"/>
<rect x="102.00" y="427.60" width="4.00" height="4.00" fill="#101010"/>
<rect x="110.50" y="427.15" width="4.00" height="4.00" fill="#101010"/>
<rect x="119.00" y="426.70" width="4.00" height="4.00" fill="#101010"/>
<rect x="127.50" y="426.25" width="4.00" height="4.00" fill="#101010"/>
<rect x="136.00" y="425.80" width="4.00" height="4.00" fill="#101010"/>
<rect x="144.50" y="425.00" width="4.00" height="4.00" fill="#101010"/>
<rect x="153.00" y="425.00" width="4.00" height="4.00" fill="#101010"/>
<rect x="161.50" y="424.80" width="4.00" height="4.00" fill="#101010"/>
<rect x="170.00" y="424.80" width="4.00" height="4.00" fill="#101010"/>
<rect x="178.50" y="424.80" width="4.00" height="4.00" fill="#101010"/>
<rect x="187.00" y="424.80" width="4.00" height="4.00" fill="#101010"/>
<rect x="195.50" y="424.80" width="4.00" height="4.00" fill="#101010"/>
<rect x="204.00" y="424.50" width="4.00" height="4.00" fill="#101010"/>
<rect x="212.50" y="423.20" width="4.00" height="4.00" fill="#101010"/>
<rect x="221.00" y="416.00" width="4.00" height="4.00" fill="#101010"/>
<rect x="229.50" y="410.50" width="4.00" height="4.00" fill="#101010"/>
<rect x="238.00" y="404.20" width="4.00" height="4.00" fill="#101010"/>
<rect x="246.50" y="395.50" width="4.00" height="4.00" fill="#101010"/>
<rect x="255.00" y="385.80" width="4.00" height="4.00" fill="#101010"/>
<rect x="263.50" y="379.30" width="4.00" height="4.00" fill="#101010"/>
<rect x="272.00" y="370.60" width="4.00" height="4.00" fill="#101010"/>
<rect x="280.50" y="371.20" width="4.00" height="4.00" fill="#101010"/>
<rect x="289.00" y="367.80" width="4.00" height="4.00" fill="#101010"/>
<rect x="297.50" y="368.40" width="4.00" height="4.00" fill="#101010"/>
<path d="M53.00,432.30 L61.50,431.85 L70.00,431.40 L78.50,430.95 L87.00,430.50 L95.50,430.05 L104.00,429.60 L112.50,429.15 L121.00,428.70 L129.50,428.25 L138.00,427.80 L146.50,427.50 L155.00,427.00 L163.50,427.00 L172.00,426.80 L180.50,426.80 L189.00,426.80 L197.50,426.80 L206.00,425.20 L214.50,422.40 L223.00,418.70 L231.50,412.20 L240.00,406.20 L248.50,395.30 L257.00,380.20 L265.50,371.10 L274.00,359.60 L282.50,354.20 L291.00,351.40 L299.50,348.75" fill="none" stroke="#e02a24" stroke-width="1.3"/>
<circle cx="53.00" cy="432.30" r="2.38" fill="#e02a24"/>
<circle cx="61.50" cy="431.85" r="2.38" fill="#e02a24"/>
<circle cx="70.00" cy="431.40" r="2.38" fill="#e02a24"/>
<circle cx="78.50" cy="430.95" r="2.38" fill="#e02a24"/>
<circle cx="87.00" cy="430.50" r="2.38" fill="#e02a24"/>
<circle cx="95.50" cy="430.05" r="2.38" fill="#e02a24"/>
<circle cx="104.00" cy="429.60" r="2.38" fill="#e02a24"/>
<circle cx="112.50" cy="429.15" r="2.38" fill="#e02a24"/>
<circle cx="121.00" cy="428.70" r="2.38" fill="#e02a24"/>
<circle cx="129.50" cy="428.25" r="2.38" fill="#e02a24"/>
<circle cx="138.00" cy="427.80" r="2.38" fill="#e02a24"/>
<circle cx="146.50" cy="427.50" r="2.38" fill="#e02a24"/>
<circle cx="155.00" cy="427.00" r="2.38" fill="#e02a24"/>
<circle cx="163.50" cy="427.00" r="2.38" fill="#e02a24"/>
<circle cx="172.00" cy="426.80" r="2.38" fill="#e02a24"/>
<circle cx="180.50" cy="426.80" r="2.38" fill="#e02a24"/>
<circle cx="189.00" cy="426.80" r="2.38" fill="#e02a24"/>
<circle cx="197.50" cy="426.80" r="2.38" fill="#e02a24"/>
<circle cx="206.00" cy="425.20" r="2.38" fill="#e02a24"/>
<circle cx="214.50" cy="422.40" r="2.38" fill="#e02a24"/>
<circle cx="223.00" cy="418.70" r="2.38" fill="#e02a24"/>
<circle cx="231.50" cy="412.20" r="2.38" fill="#e02a24"/>
<circle cx="240.00" cy="406.20" r="2.38" fill="#e02a24"/>
<circle cx="248.50" cy="395.30" r="2.38" fill="#e02a24"/>
<circle cx="257.00" cy="380.20" r="2.38" fill="#e02a24"/>
<circle cx="265.50" cy="371.10" r="2.38" fill="#e02a24"/>
<circle cx="274.00" cy="359.60" r="2.38" fill="#e02a24"/>
<circle cx="282.50" cy="354.20" r="2.38" fill="#e02a24"/>
<circle cx="291.00" cy="351.40" r="2.38" fill="#e02a24"/>
<circle cx="299.50" cy="348.75" r="2.38" fill="#e02a24"/>
<path d="M53.00,431.50 L61.50,431.05 L70.00,430.60 L78.50,430.15 L87.00,429.70 L95.50,429.25 L104.00,428.80 L112.50,428.35 L121.00,427.90 L129.50,427.45 L138.00,427.00 L146.50,426.55 L155.00,426.10 L163.50,425.65 L172.00,424.00 L180.50,421.50 L189.00,419.00 L197.50,415.90 L206.00,410.50 L214.50,399.70 L223.00,384.10 L231.50,368.30 L240.00,356.80 L248.50,349.80 L257.00,344.40 L265.50,339.00 L274.00,339.70 L282.50,340.10 L291.00,337.90 L299.50,342.30" fill="none" stroke="#9a9a28" stroke-width="1.3"/>
<path d="M53.00,429.00 L55.50,433.50 L50.50,433.50Z" fill="#9a9a28"/>
<path d="M61.50,428.55 L64.00,433.05 L59.00,433.05Z" fill="#9a9a28"/>
<path d="M70.00,428.10 L72.50,432.60 L67.50,432.60Z" fill="#9a9a28"/>
<path d="M78.50,427.65 L81.00,432.15 L76.00,432.15Z" fill="#9a9a28"/>
<path d="M87.00,427.20 L89.50,431.70 L84.50,431.70Z" fill="#9a9a28"/>
<path d="M95.50,426.75 L98.00,431.25 L93.00,431.25Z" fill="#9a9a28"/>
<path d="M104.00,426.30 L106.50,430.80 L101.50,430.80Z" fill="#9a9a28"/>
<path d="M112.50,425.85 L115.00,430.35 L110.00,430.35Z" fill="#9a9a28"/>
<path d="M121.00,425.40 L123.50,429.90 L118.50,429.90Z" fill="#9a9a28"/>
<path d="M129.50,424.95 L132.00,429.45 L127.00,429.45Z" fill="#9a9a28"/>
<path d="M138.00,424.50 L140.50,429.00 L135.50,429.00Z" fill="#9a9a28"/>
<path d="M146.50,424.05 L149.00,428.55 L144.00,428.55Z" fill="#9a9a28"/>
<path d="M155.00,423.60 L157.50,428.10 L152.50,428.10Z" fill="#9a9a28"/>
<path d="M163.50,423.15 L166.00,427.65 L161.00,427.65Z" fill="#9a9a28"/>
<path d="M172.00,421.50 L174.50,426.00 L169.50,426.00Z" fill="#9a9a28"/>
<path d="M180.50,419.00 L183.00,423.50 L178.00,423.50Z" fill="#9a9a28"/>
<path d="M189.00,416.50 L191.50,421.00 L186.50,421.00Z" fill="#9a9a28"/>
<path d="M197.50,413.40 L200.00,417.90 L195.00,417.90Z" fill="#9a9a28"/>
<path d="M206.00,408.00 L208.50,412.50 L203.50,412.50Z" fill="#9a9a28"/>
<path d="M214.50,397.20 L217.00,401.70 L212.00,401.70Z" fill="#9a9a28"/>
<path d="M223.00,381.60 L225.50,386.10 L220.50,386.10Z" fill="#9a9a28"/>
<path d="M231.50,365.80 L234.00,370.30 L229.00,370.30Z" fill="#9a9a28"/>
<path d="M240.00,354.30 L242.50,358.80 L237.50,358.80Z" fill="#9a9a28"/>
<path d="M248.50,347.30 L251.00,351.80 L246.00,351.80Z" fill="#9a9a28"/>
<path d="M257.00,341.90 L259.50,346.40 L254.50,346.40Z" fill="#9a9a28"/>
<path d="M265.50,336.50 L268.00,341.00 L263.00,341.00Z" fill="#9a9a28"/>
<path d="M274.00,337.20 L276.50,341.70 L271.50,341.70Z" fill="#9a9a28"/>
<path d="M282.50,337.60 L285.00,342.10 L280.00,342.10Z" fill="#9a9a28"/>
<path d="M291.00,335.40 L293.50,339.90 L288.50,339.90Z" fill="#9a9a28"/>
<path d="M299.50,339.80 L302.00,344.30 L297.00,344.30Z" fill="#9a9a28"/>
<path d="M53.00,431.50 L61.50,431.05 L70.00,430.60 L78.50,430.15 L87.00,429.70 L95.50,429.25 L104.00,428.80 L112.50,428.35 L121.00,427.90 L129.50,427.45 L138.00,427.00 L146.50,426.55 L155.00,426.10 L163.50,425.65 L172.00,422.00 L180.50,418.70 L189.00,412.70 L197.50,405.10 L206.00,392.10 L214.50,379.70 L223.00,361.80 L231.50,345.50 L240.00,337.30 L248.50,324.90 L257.00,320.20 L265.50,319.00 L274.00,315.80 L282.50,316.90 L291.00,321.00 L299.50,316.30" fill="none" stroke="#2020c0" stroke-width="1.3"/>
<path d="M53.00,434.00 L55.50,429.50 L50.50,429.50Z" fill="#2020c0"/>
<path d="M61.50,433.55 L64.00,429.05 L59.00,429.05Z" fill="#2020c0"/>
<path d="M70.00,433.10 L72.50,428.60 L67.50,428.60Z" fill="#2020c0"/>
<path d="M78.50,432.65 L81.00,428.15 L76.00,428.15Z" fill="#2020c0"/>
<path d="M87.00,432.20 L89.50,427.70 L84.50,427.70Z" fill="#2020c0"/>
<path d="M95.50,431.75 L98.00,427.25 L93.00,427.25Z" fill="#2020c0"/>
<path d="M104.00,431.30 L106.50,426.80 L101.50,426.80Z" fill="#2020c0"/>
<path d="M112.50,430.85 L115.00,426.35 L110.00,426.35Z" fill="#2020c0"/>
<path d="M121.00,430.40 L123.50,425.90 L118.50,425.90Z" fill="#2020c0"/>
<path d="M129.50,429.95 L132.00,425.45 L127.00,425.45Z" fill="#2020c0"/>
<path d="M138.00,429.50 L140.50,425.00 L135.50,425.00Z" fill="#2020c0"/>
<path d="M146.50,429.05 L149.00,424.55 L144.00,424.55Z" fill="#2020c0"/>
<path d="M155.00,428.60 L157.50,424.10 L152.50,424.10Z" fill="#2020c0"/>
<path d="M163.50,428.15 L166.00,423.65 L161.00,423.65Z" fill="#2020c0"/>
<path d="M172.00,424.50 L174.50,420.00 L169.50,420.00Z" fill="#2020c0"/>
<path d="M180.50,421.20 L183.00,416.70 L178.00,416.70Z" fill="#2020c0"/>
<path d="M189.00,415.20 L191.50,410.70 L186.50,410.70Z" fill="#2020c0"/>
<path d="M197.50,407.60 L200.00,403.10 L195.00,403.10Z" fill="#2020c0"/>
<path d="M206.00,394.60 L208.50,390.10 L203.50,390.10Z" fill="#2020c0"/>
<path d="M214.50,382.20 L217.00,377.70 L212.00,377.70Z" fill="#2020c0"/>
<path d="M223.00,364.30 L225.50,359.80 L220.50,359.80Z" fill="#2020c0"/>
<path d="M231.50,348.00 L234.00,343.50 L229.00,343.50Z" fill="#2020c0"/>
<path d="M240.00,339.80 L242.50,335.30 L237.50,335.30Z" fill="#2020c0"/>
<path d="M248.50,327.40 L251.00,322.90 L246.00,322.90Z" fill="#2020c0"/>
<path d="M257.00,322.70 L259.50,318.20 L254.50,318.20Z" fill="#2020c0"/>
<path d="M265.50,321.50 L268.00,317.00 L263.00,317.00Z" fill="#2020c0"/>
<path d="M274.00,318.30 L276.50,313.80 L271.50,313.80Z" fill="#2020c0"/>
<path d="M282.50,319.40 L285.00,314.90 L280.00,314.90Z" fill="#2020c0"/>
<path d="M291.00,323.50 L293.50,319.00 L288.50,319.00Z" fill="#2020c0"/>
<path d="M299.50,318.80 L302.00,314.30 L297.00,314.30Z" fill="#2020c0"/>
<path d="M53.00,431.50 L61.50,431.05 L70.00,430.60 L78.50,430.15 L87.00,429.70 L95.50,429.25 L104.00,428.80 L112.50,428.35 L121.00,427.90 L129.50,427.45 L138.00,427.00 L146.50,426.55 L155.00,426.10 L163.50,425.65 L172.00,421.50 L180.50,417.10 L189.00,408.30 L197.50,395.30 L206.00,375.80 L214.50,355.90 L223.00,334.70 L231.50,320.60 L240.00,313.40 L248.50,311.90 L257.00,310.40 L265.50,309.75 L274.00,309.10 L282.50,313.00 L291.00,309.75 L299.50,308.70" fill="none" stroke="#6e1020" stroke-width="1.3"/>
<path d="M53.00,429.00 L55.50,431.50 L53.00,434.00 L50.50,431.50Z" fill="#6e1020"/>
<path d="M61.50,428.55 L64.00,431.05 L61.50,433.55 L59.00,431.05Z" fill="#6e1020"/>
<path d="M70.00,428.10 L72.50,430.60 L70.00,433.10 L67.50,430.60Z" fill="#6e1020"/>
<path d="M78.50,427.65 L81.00,430.15 L78.50,432.65 L76.00,430.15Z" fill="#6e1020"/>
<path d="M87.00,427.20 L89.50,429.70 L87.00,432.20 L84.50,429.70Z" fill="#6e1020"/>
<path d="M95.50,426.75 L98.00,429.25 L95.50,431.75 L93.00,429.25Z" fill="#6e1020"/>
<path d="M104.00,426.30 L106.50,428.80 L104.00,431.30 L101.50,428.80Z" fill="#6e1020"/>
<path d="M112.50,425.85 L115.00,428.35 L112.50,430.85 L110.00,428.35Z" fill="#6e1020"/>
<path d="M121.00,425.40 L123.50,427.90 L121.00,430.40 L118.50,427.90Z" fill="#6e1020"/>
<path d="M129.50,424.95 L132.00,427.45 L129.50,429.95 L127.00,427.45Z" fill="#6e1020"/>
<path d="M138.00,424.50 L140.50,427.00 L138.00,429.50 L135.50,427.00Z" fill="#6e1020"/>
<path d="M146.50,424.05 L149.00,426.55 L146.50,429.05 L144.00,426.55Z" fill="#6e1020"/>
<path d="M155.00,423.60 L157.50,426.10 L155.00,428.60 L152.50,426.10Z" fill="#6e1020"/>
<path d="M163.50,423.15 L166.00,425.65 L163.50,428.15 L161.00,425.65Z" fill="#6e1020"/>
<path d="M172.00,419.00 L174.50,421.50 L172.00,424.00 L169.50,421.50Z" fill="#6e1020"/>
<path d="M180.50,414.60 L183.00,417.10 L180.50,419.60 L178.00,417.10Z" fill="#6e1020"/>
<path d="M189.00,405.80 L191.50,408.30 L189.00,410.80 L186.50,408.30Z" fill="#6e1020"/>
<path d="M197.50,392.80 L200.00,395.30 L197.50,397.80 L195.00,395.30Z" fill="#6e1020"/>
<path d="M206.00,373.30 L208.50,375.80 L206.00,378.30 L203.50,375.80Z" fill="#6e1020"/>
<path d="M214.50,353.40 L217.00,355.90 L214.50,358.40 L212.00,355.90Z" fill="#6e1020"/>
<path d="M223.00,332.20 L225.50,334.70 L223.00,337.20 L220.50,334.70Z" fill="#6e1020"/>
<path d="M231.50,318.10 L234.00,320.60 L231.50,323.10 L229.00,320.60Z" fill="#6e1020"/>
<path d="M240.00,310.90 L242.50,313.40 L240.00,315.90 L237.50,313.40Z" fill="#6e1020"/>
<path d="M248.50,309.40 L251.00,311.90 L248.50,314.40 L246.00,311.90Z" fill="#6e1020"/>
<path d="M257.00,307.90 L259.50,310.40 L257.00,312.90 L254.50,310.40Z" fill="#6e1020"/>
<path d="M265.50,307.25 L268.00,309.75 L265.50,312.25 L263.00,309.75Z" fill="#6e1020"/>
<path d="M274.00,306.60 L276.50,309.10 L274.00,311.60 L271.50,309.10Z" fill="#6e1020"/>
<path d="M282.50,310.50 L285.00,313.00 L282.50,315.50 L280.00,313.00Z" fill="#6e1020"/>
<path d="M291.00,307.25 L293.50,309.75 L291.00,312.25 L288.50,309.75Z" fill="#6e1020"/>
<path d="M299.50,306.20 L302.00,308.70 L299.50,311.20 L297.00,308.70Z" fill="#6e1020"/>
<path d="M53.00,431.50 L61.50,431.05 L70.00,430.60 L78.50,430.15 L87.00,429.70 L95.50,429.25 L104.00,428.80 L112.50,428.35 L121.00,427.90 L129.50,427.45 L138.00,427.00 L146.50,426.55 L155.00,426.10 L163.50,425.65 L172.00,423.00 L180.50,420.00 L189.00,414.80 L197.50,406.20 L206.00,397.00 L214.50,385.60 L223.00,368.90 L231.50,363.90 L240.00,357.40 L248.50,350.90 L257.00,350.30 L265.50,348.75 L274.00,346.20 L282.50,347.70 L291.00,346.60 L299.50,348.75" fill="none" stroke="#188a28" stroke-width="1.3"/>
<path d="M50.50,431.50 L55.00,429.00 L55.00,434.00Z" fill="#188a28"/>
<path d="M59.00,431.05 L63.50,428.55 L63.50,433.55Z" fill="#188a28"/>
<path d="M67.50,430.60 L72.00,428.10 L72.00,433.10Z" fill="#188a28"/>
<path d="M76.00,430.15 L80.50,427.65 L80.50,432.65Z" fill="#188a28"/>
<path d="M84.50,429.70 L89.00,427.20 L89.00,432.20Z" fill="#188a28"/>
<path d="M93.00,429.25 L97.50,426.75 L97.50,431.75Z" fill="#188a28"/>
<path d="M101.50,428.80 L106.00,426.30 L106.00,431.30Z" fill="#188a28"/>
<path d="M110.00,428.35 L114.50,425.85 L114.50,430.85Z" fill="#188a28"/>
<path d="M118.50,427.90 L123.00,425.40 L123.00,430.40Z" fill="#188a28"/>
<path d="M127.00,427.45 L131.50,424.95 L131.50,429.95Z" fill="#188a28"/>
<path d="M135.50,427.00 L140.00,424.50 L140.00,429.50Z" fill="#188a28"/>
<path d="M144.00,426.55 L148.50,424.05 L148.50,429.05Z" fill="#188a28"/>
<path d="M152.50,426.10 L157.00,423.60 L157.00,428.60Z" fill="#188a28"/>
<path d="M161.00,425.65 L165.50,423.15 L165.50,428.15Z" fill="#188a28"/>
<path d="M169.50,423.00 L174.00,420.50 L174.00,425.50Z" fill="#188a28"/>
<path d="M178.00,420.00 L182.50,417.50 L182.50,422.50Z" fill="#188a28"/>
<path d="M186.50,414.80 L191.00,412.30 L191.00,417.30Z" fill="#188a28"/>
<path d="M195.00,406.20 L199.50,403.70 L199.50,408.70Z" fill="#188a28"/>
<path d="M203.50,397.00 L208.00,394.50 L208.00,399.50Z" fill="#188a28"/>
<path d="M212.00,385.60 L216.50,383.10 L216.50,388.10Z" fill="#188a28"/>
<path d="M220.50,368.90 L225.00,366.40 L225.00,371.40Z" fill="#188a28"/>
<path d="M229.00,363.90 L233.50,361.40 L233.50,366.40Z" fill="#188a28"/>
<path d="M237.50,357.40 L242.00,354.90 L242.00,359.90Z" fill="#188a28"/>
<path d="M246.00,350.90 L250.50,348.40 L250.50,353.40Z" fill="#188a28"/>
<path d="M254.50,350.30 L259.00,347.80 L259.00,352.80Z" fill="#188a28"/>
<path d="M263.00,348.75 L267.50,346.25 L267.50,351.25Z" fill="#188a28"/>
<path d="M271.50,346.20 L276.00,343.70 L276.00,348.70Z" fill="#188a28"/>
<path d="M280.00,347.70 L284.50,345.20 L284.50,350.20Z" fill="#188a28"/>
<path d="M288.50,346.60 L293.00,344.10 L293.00,349.10Z" fill="#188a28"/>
<path d="M297.00,348.75 L301.50,346.25 L301.50,351.25Z" fill="#188a28"/>
<path d="M53.00,431.50 L61.50,431.00 L70.00,429.50 L78.50,427.50 L87.00,425.70 L95.50,427.20 L104.00,425.00 L112.50,422.30 L121.00,421.70 L129.50,423.70 L138.00,422.50 L146.50,423.00 L155.00,422.00 L163.50,421.50 L172.00,421.00 L180.50,420.00 L189.00,418.50 L197.50,414.40 L206.00,408.30 L214.50,400.10 L223.00,392.70 L231.50,384.50 L240.00,376.90 L248.50,370.40 L257.00,369.30 L265.50,369.30 L274.00,369.80 L282.50,372.60 L291.00,371.00 L299.50,370.40" fill="none" stroke="#1aa0a0" stroke-width="1.3"/>
<path d="M55.50,431.50 L51.00,429.00 L51.00,434.00Z" fill="#1aa0a0"/>
<path d="M64.00,431.00 L59.50,428.50 L59.50,433.50Z" fill="#1aa0a0"/>
<path d="M72.50,429.50 L68.00,427.00 L68.00,432.00Z" fill="#1aa0a0"/>
<path d="M81.00,427.50 L76.50,425.00 L76.50,430.00Z" fill="#1aa0a0"/>
<path d="M89.50,425.70 L85.00,423.20 L85.00,428.20Z" fill="#1aa0a0"/>
<path d="M98.00,427.20 L93.50,424.70 L93.50,429.70Z" fill="#1aa0a0"/>
<path d="M106.50,425.00 L102.00,422.50 L102.00,427.50Z" fill="#1aa0a0"/>
<path d="M115.00,422.30 L110.50,419.80 L110.50,424.80Z" fill="#1aa0a0"/>
<path d="M123.50,421.70 L119.00,419.20 L119.00,424.20Z" fill="#1aa0a0"/>
<path d="M132.00,423.70 L127.50,421.20 L127.50,426.20Z" fill="#1aa0a0"/>
<path d="M140.50,422.50 L136.00,420.00 L136.00,425.00Z" fill="#1aa0a0"/>
<path d="M149.00,423.00 L144.50,420.50 L144.50,425.50Z" fill="#1aa0a0"/>
<path d="M157.50,422.00 L153.00,419.50 L153.00,424.50Z" fill="#1aa0a0"/>
<path d="M166.00,421.50 L161.50,419.00 L161.50,424.00Z" fill="#1aa0a0"/>
<path d="M174.50,421.00 L170.00,418.50 L170.00,423.50Z" fill="#1aa0a0"/>
<path d="M183.00,420.00 L178.50,417.50 L178.50,422.50Z" fill="#1aa0a0"/>
<path d="M191.50,418.50 L187.00,416.00 L187.00,421.00Z" fill="#1aa0a0"/>
<path d="M200.00,414.40 L195.50,411.90 L195.50,416.90Z" fill="#1aa0a0"/>
<path d="M208.50,408.30 L204.00,405.80 L204.00,410.80Z" fill="#1aa0a0"/>
<path d="M217.00,400.10 L212.50,397.60 L212.50,402.60Z" fill="#1aa0a0"/>
<path d="M225.50,392.70 L221.00,390.20 L221.00,395.20Z" fill="#1aa0a0"/>
<path d="M234.00,384.50 L229.50,382.00 L229.50,387.00Z" fill="#1aa0a0"/>
<path d="M242.50,376.90 L238.00,374.40 L238.00,379.40Z" fill="#1aa0a0"/>
<path d="M251.00,370.40 L246.50,367.90 L246.50,372.90Z" fill="#1aa0a0"/>
<path d="M259.50,369.30 L255.00,366.80 L255.00,371.80Z" fill="#1aa0a0"/>
<path d="M268.00,369.30 L263.50,366.80 L263.50,371.80Z" fill="#1aa0a0"/>
<path d="M276.50,369.80 L272.00,367.30 L272.00,372.30Z" fill="#1aa0a0"/>
<path d="M285.00,372.60 L280.50,370.10 L280.50,375.10Z" fill="#1aa0a0"/>
<path d="M293.50,371.00 L289.00,368.50 L289.00,373.50Z" fill="#1aa0a0"/>
<path d="M302.00,370.40 L297.50,367.90 L297.50,372.90Z" fill="#1aa0a0"/>
<path d="M67.3,284.60 L73.5,284.60 M81.5,284.60 L88,284.60" stroke="#101010" stroke-width="1.1"/>
<rect x="76.08" y="283.08" width="3.04" height="3.04" fill="#101010"/>
<text x="94.00" y="287.80" font-size="9" font-weight="normal" text-anchor="start" fill="#111" stroke="#111" stroke-width="0.05" >NTC1</text>
<path d="M67.3,296.22 L73.5,296.22 M81.5,296.22 L88,296.22" stroke="#e02a24" stroke-width="1.1"/>
<circle cx="77.60" cy="296.22" r="1.80" fill="#e02a24"/>
<text x="94.00" y="299.42" font-size="9" font-weight="normal" text-anchor="start" fill="#111" stroke="#111" stroke-width="0.05" >NTC2</text>
<path d="M67.3,307.84 L73.5,307.84 M81.5,307.84 L88,307.84" stroke="#9a9a28" stroke-width="1.1"/>
<path d="M77.60,305.94 L79.50,309.36 L75.70,309.36Z" fill="#9a9a28"/>
<text x="94.00" y="311.04" font-size="9" font-weight="normal" text-anchor="start" fill="#111" stroke="#111" stroke-width="0.05" >PC1</text>
<path d="M67.3,319.46 L73.5,319.46 M81.5,319.46 L88,319.46" stroke="#2020c0" stroke-width="1.1"/>
<path d="M77.60,321.36 L79.50,317.94 L75.70,317.94Z" fill="#2020c0"/>
<text x="94.00" y="322.66" font-size="9" font-weight="normal" text-anchor="start" fill="#111" stroke="#111" stroke-width="0.05" >PC2</text>
<path d="M67.3,331.08 L73.5,331.08 M81.5,331.08 L88,331.08" stroke="#6e1020" stroke-width="1.1"/>
<path d="M77.60,329.18 L79.50,331.08 L77.60,332.98 L75.70,331.08Z" fill="#6e1020"/>
<text x="94.00" y="334.28" font-size="9" font-weight="normal" text-anchor="start" fill="#111" stroke="#111" stroke-width="0.05" >PC3</text>
<path d="M67.3,342.70 L73.5,342.70 M81.5,342.70 L88,342.70" stroke="#188a28" stroke-width="1.1"/>
<path d="M75.70,342.70 L79.12,340.80 L79.12,344.60Z" fill="#188a28"/>
<text x="94.00" y="345.90" font-size="9" font-weight="normal" text-anchor="start" fill="#111" stroke="#111" stroke-width="0.05" >PC4</text>
<path d="M67.3,354.32 L73.5,354.32 M81.5,354.32 L88,354.32" stroke="#1aa0a0" stroke-width="1.1"/>
<path d="M79.50,354.32 L76.08,352.42 L76.08,356.22Z" fill="#1aa0a0"/>
<text x="94.00" y="357.52" font-size="9" font-weight="normal" text-anchor="start" fill="#111" stroke="#111" stroke-width="0.05" >PC5</text>
<text x="56.20" y="273.50" font-size="18" font-weight="bold" text-anchor="start" fill="#111" >(c)</text>
<rect x="53.00" y="256.20" width="246.90" height="196.00" fill="none" stroke="#1e1e1e" stroke-width="1.4"/>
<line x1="341.80" y1="452.78" x2="344.80" y2="452.78" stroke="#1e1e1e" stroke-width="1.1" />
<line x1="339.80" y1="442.50" x2="344.80" y2="442.50" stroke="#1e1e1e" stroke-width="1.1" />
<text x="335.80" y="445.40" font-size="8.2" font-weight="bold" text-anchor="end" fill="#111" stroke="#111" stroke-width="0.38" >0</text>
<line x1="341.80" y1="432.22" x2="344.80" y2="432.22" stroke="#1e1e1e" stroke-width="1.1" />
<line x1="339.80" y1="421.94" x2="344.80" y2="421.94" stroke="#1e1e1e" stroke-width="1.1" />
<text x="335.80" y="424.84" font-size="8.2" font-weight="bold" text-anchor="end" fill="#111" stroke="#111" stroke-width="0.38" >20</text>
<line x1="341.80" y1="411.66" x2="344.80" y2="411.66" stroke="#1e1e1e" stroke-width="1.1" />
<line x1="339.80" y1="401.38" x2="344.80" y2="401.38" stroke="#1e1e1e" stroke-width="1.1" />
<text x="335.80" y="404.28" font-size="8.2" font-weight="bold" text-anchor="end" fill="#111" stroke="#111" stroke-width="0.38" >40</text>
<line x1="341.80" y1="391.10" x2="344.80" y2="391.10" stroke="#1e1e1e" stroke-width="1.1" />
<line x1="339.80" y1="380.82" x2="344.80" y2="380.82" stroke="#1e1e1e" stroke-width="1.1" />
<text x="335.80" y="383.72" font-size="8.2" font-weight="bold" text-anchor="end" fill="#111" stroke="#111" stroke-width="0.38" >60</text>
<line x1="341.80" y1="370.54" x2="344.80" y2="370.54" stroke="#1e1e1e" stroke-width="1.1" />
<line x1="339.80" y1="360.26" x2="344.80" y2="360.26" stroke="#1e1e1e" stroke-width="1.1" />
<text x="335.80" y="363.16" font-size="8.2" font-weight="bold" text-anchor="end" fill="#111" stroke="#111" stroke-width="0.38" >80</text>
<line x1="341.80" y1="349.98" x2="344.80" y2="349.98" stroke="#1e1e1e" stroke-width="1.1" />
<line x1="339.80" y1="339.70" x2="344.80" y2="339.70" stroke="#1e1e1e" stroke-width="1.1" />
<text x="335.80" y="342.60" font-size="8.2" font-weight="bold" text-anchor="end" fill="#111" stroke="#111" stroke-width="0.38" >100</text>
<line x1="341.80" y1="329.42" x2="344.80" y2="329.42" stroke="#1e1e1e" stroke-width="1.1" />
<line x1="339.80" y1="319.14" x2="344.80" y2="319.14" stroke="#1e1e1e" stroke-width="1.1" />
<text x="335.80" y="322.04" font-size="8.2" font-weight="bold" text-anchor="end" fill="#111" stroke="#111" stroke-width="0.38" >120</text>
<line x1="341.80" y1="308.86" x2="344.80" y2="308.86" stroke="#1e1e1e" stroke-width="1.1" />
<line x1="339.80" y1="298.58" x2="344.80" y2="298.58" stroke="#1e1e1e" stroke-width="1.1" />
<text x="335.80" y="301.48" font-size="8.2" font-weight="bold" text-anchor="end" fill="#111" stroke="#111" stroke-width="0.38" >140</text>
<line x1="341.80" y1="288.30" x2="344.80" y2="288.30" stroke="#1e1e1e" stroke-width="1.1" />
<line x1="339.80" y1="278.02" x2="344.80" y2="278.02" stroke="#1e1e1e" stroke-width="1.1" />
<text x="335.80" y="280.92" font-size="8.2" font-weight="bold" text-anchor="end" fill="#111" stroke="#111" stroke-width="0.38" >160</text>
<line x1="341.80" y1="267.74" x2="344.80" y2="267.74" stroke="#1e1e1e" stroke-width="1.1" />
<line x1="339.80" y1="257.46" x2="344.80" y2="257.46" stroke="#1e1e1e" stroke-width="1.1" />
<text x="335.80" y="260.36" font-size="8.2" font-weight="bold" text-anchor="end" fill="#111" stroke="#111" stroke-width="0.38" >180</text>
<line x1="344.80" y1="452.80" x2="344.80" y2="455.80" stroke="#1e1e1e" stroke-width="1.1" />
<line x1="354.66" y1="452.80" x2="354.66" y2="455.80" stroke="#1e1e1e" stroke-width="1.1" />
<line x1="364.52" y1="452.80" x2="364.52" y2="457.80" stroke="#1e1e1e" stroke-width="1.1" />
<text x="364.52" y="467.80" font-size="8.6" font-weight="bold" text-anchor="middle" fill="#111" stroke="#111" stroke-width="0.38" >75</text>
<line x1="374.38" y1="452.80" x2="374.38" y2="455.80" stroke="#1e1e1e" stroke-width="1.1" />
<line x1="384.24" y1="452.80" x2="384.24" y2="455.80" stroke="#1e1e1e" stroke-width="1.1" />
<line x1="394.10" y1="452.80" x2="394.10" y2="455.80" stroke="#1e1e1e" stroke-width="1.1" />
<line x1="403.96" y1="452.80" x2="403.96" y2="455.80" stroke="#1e1e1e" stroke-width="1.1" />
<line x1="413.82" y1="452.80" x2="413.82" y2="457.80" stroke="#1e1e1e" stroke-width="1.1" />
<text x="413.82" y="467.80" font-size="8.6" font-weight="bold" text-anchor="middle" fill="#111" stroke="#111" stroke-width="0.38" >80</text>
<line x1="423.68" y1="452.80" x2="423.68" y2="455.80" stroke="#1e1e1e" stroke-width="1.1" />
<line x1="433.54" y1="452.80" x2="433.54" y2="455.80" stroke="#1e1e1e" stroke-width="1.1" />
<line x1="443.40" y1="452.80" x2="443.40" y2="455.80" stroke="#1e1e1e" stroke-width="1.1" />
<line x1="453.26" y1="452.80" x2="453.26" y2="455.80" stroke="#1e1e1e" stroke-width="1.1" />
<line x1="463.12" y1="452.80" x2="463.12" y2="457.80" stroke="#1e1e1e" stroke-width="1.1" />
<text x="463.12" y="467.80" font-size="8.6" font-weight="bold" text-anchor="middle" fill="#111" stroke="#111" stroke-width="0.38" >85</text>
<line x1="472.98" y1="452.80" x2="472.98" y2="455.80" stroke="#1e1e1e" stroke-width="1.1" />
<line x1="482.84" y1="452.80" x2="482.84" y2="455.80" stroke="#1e1e1e" stroke-width="1.1" />
<line x1="492.70" y1="452.80" x2="492.70" y2="455.80" stroke="#1e1e1e" stroke-width="1.1" />
<line x1="502.56" y1="452.80" x2="502.56" y2="455.80" stroke="#1e1e1e" stroke-width="1.1" />
<line x1="512.42" y1="452.80" x2="512.42" y2="457.80" stroke="#1e1e1e" stroke-width="1.1" />
<text x="512.42" y="467.80" font-size="8.6" font-weight="bold" text-anchor="middle" fill="#111" stroke="#111" stroke-width="0.38" >90</text>
<line x1="522.28" y1="452.80" x2="522.28" y2="455.80" stroke="#1e1e1e" stroke-width="1.1" />
<line x1="532.14" y1="452.80" x2="532.14" y2="455.80" stroke="#1e1e1e" stroke-width="1.1" />
<line x1="542.00" y1="452.80" x2="542.00" y2="455.80" stroke="#1e1e1e" stroke-width="1.1" />
<line x1="551.86" y1="452.80" x2="551.86" y2="455.80" stroke="#1e1e1e" stroke-width="1.1" />
<line x1="561.72" y1="452.80" x2="561.72" y2="457.80" stroke="#1e1e1e" stroke-width="1.1" />
<text x="561.72" y="467.80" font-size="8.6" font-weight="bold" text-anchor="middle" fill="#111" stroke="#111" stroke-width="0.38" >95</text>
<line x1="571.58" y1="452.80" x2="571.58" y2="455.80" stroke="#1e1e1e" stroke-width="1.1" />
<line x1="581.44" y1="452.80" x2="581.44" y2="455.80" stroke="#1e1e1e" stroke-width="1.1" />
<line x1="591.30" y1="452.80" x2="591.30" y2="455.80" stroke="#1e1e1e" stroke-width="1.1" />
<text x="447.80" y="481.00" font-size="8.7" font-weight="bold" text-anchor="start" fill="#111" stroke="#111" stroke-width="0.2" >Temp.</text>
<text x="475.60" y="481.80" font-size="9" font-weight="bold" text-anchor="start" fill="#111" stroke="#111" stroke-width="0.2" >(</text>
<text x="479.00" y="475.20" font-size="8" font-weight="bold" text-anchor="start" fill="#111" stroke="#111" stroke-width="0.1" >o</text>
<text x="483.60" y="481.00" font-size="8.9" font-weight="bold" text-anchor="start" fill="#111" stroke="#111" stroke-width="0.2" >C)</text>
<text transform="translate(321,355.8) rotate(-90)" font-size="9.3" text-anchor="middle" fill="#111" stroke="#111" stroke-width="0.3">-dF/dT</text>
<path d="M345.00,434.30 C346.67,434.12 352.17,433.92 355.00,433.20 C357.83,432.48 360.17,429.87 362.00,430.00 C363.83,430.13 364.52,432.43 366.00,434.00 C367.48,435.57 369.57,439.73 370.90,439.40 C372.23,439.07 373.03,436.32 374.00,432.00 C374.97,427.68 375.55,423.55 376.70,413.50 C377.85,403.45 379.65,381.45 380.90,371.70 C382.15,361.95 382.95,359.03 384.20,355.00 C385.45,350.97 386.87,346.93 388.40,347.50 C389.93,348.07 391.73,352.98 393.40,358.40 C395.07,363.82 396.73,371.40 398.40,380.00 C400.07,388.60 401.73,402.75 403.40,410.00 C405.07,417.25 406.17,420.97 408.40,423.50 C410.63,426.03 414.28,424.37 416.80,425.20 C419.32,426.03 421.55,426.83 423.50,428.50 C425.45,430.17 426.83,433.53 428.50,435.20 C430.17,436.87 431.58,438.37 433.50,438.50 C435.42,438.63 437.25,437.25 440.00,436.00 C442.75,434.75 446.04,430.54 450.00,431.00 C453.96,431.46 459.58,438.71 463.75,438.75 C467.92,438.79 470.38,431.82 475.00,431.25 C479.62,430.68 486.50,434.96 491.50,435.30 C496.50,435.64 500.25,434.18 505.00,433.30 C509.75,432.42 515.22,430.80 520.00,430.00 C524.78,429.20 529.87,429.17 533.70,428.50 C537.53,427.83 539.82,427.12 543.00,426.00 C546.18,424.88 549.88,420.25 552.80,421.80 C555.72,423.35 558.25,431.78 560.50,435.30 C562.75,438.82 563.75,442.12 566.30,442.90 C568.85,443.68 572.68,441.82 575.80,440.00 C578.92,438.18 582.13,432.78 585.00,432.00 C587.87,431.22 591.67,434.75 593.00,435.30" fill="none" stroke="#101010" stroke-width="1.8"/>
<path d="M345.00,421.50 C346.67,422.08 351.67,425.08 355.00,425.00 C358.33,424.92 361.80,422.08 365.00,421.00 C368.20,419.92 371.70,418.67 374.20,418.50 C376.70,418.33 378.33,421.12 380.00,420.00 C381.67,418.88 382.67,417.90 384.20,411.80 C385.73,405.70 387.53,391.05 389.20,383.40 C390.87,375.75 392.67,366.73 394.20,365.90 C395.73,365.07 396.87,371.30 398.40,378.40 C399.93,385.50 401.73,400.15 403.40,408.50 C405.07,416.85 406.73,424.62 408.40,428.50 C410.07,432.38 411.72,431.80 413.40,431.80 C415.08,431.80 416.68,429.33 418.50,428.50 C420.32,427.67 421.55,426.80 424.30,426.80 C427.05,426.80 430.72,428.18 435.00,428.50 C439.28,428.82 445.21,429.96 450.00,428.75 C454.79,427.54 460.00,422.71 463.75,421.25 C467.50,419.79 469.79,418.94 472.50,420.00 C475.21,421.06 476.83,424.10 480.00,427.60 C483.17,431.10 487.67,439.57 491.50,441.00 C495.33,442.43 498.58,437.70 503.00,436.20 C507.42,434.70 512.88,433.12 518.00,432.00 C523.12,430.88 529.48,430.55 533.70,429.50 C537.92,428.45 540.12,425.53 543.30,425.70 C546.48,425.87 549.62,430.18 552.80,430.50 C555.98,430.82 559.20,428.40 562.40,427.60 C565.60,426.80 568.48,424.90 572.00,425.70 C575.52,426.50 580.00,431.77 583.50,432.40 C587.00,433.03 591.42,429.98 593.00,429.50" fill="none" stroke="#e02a24" stroke-width="1.8"/>
<path d="M345.00,430.20 C348.33,429.83 358.33,429.40 365.00,428.00 C371.67,426.60 378.87,423.38 385.00,421.80 C391.13,420.22 397.33,420.30 401.80,418.50 C406.27,416.70 409.30,412.12 411.80,411.00 C414.30,409.88 415.27,410.63 416.80,411.80 C418.33,412.97 419.67,417.57 421.00,418.00 C422.33,418.43 422.57,424.63 424.80,414.40 C427.03,404.17 431.20,373.45 434.40,356.60 C437.60,339.75 440.87,325.80 444.00,313.30 C447.13,300.80 450.18,280.80 453.20,281.60 C456.22,282.40 459.62,302.78 462.10,318.10 C464.58,333.42 466.50,359.05 468.10,373.50 C469.70,387.95 470.08,395.98 471.70,404.80 C473.32,413.62 475.75,421.53 477.80,426.40 C479.85,431.27 481.72,432.52 484.00,434.00 C486.28,435.48 488.33,435.80 491.50,435.30 C494.67,434.80 499.33,433.40 503.00,431.00 C506.67,428.60 510.47,420.18 513.50,420.90 C516.53,421.62 518.48,431.95 521.20,435.30 C523.92,438.65 526.12,440.05 529.80,441.00 C533.48,441.95 538.82,441.33 543.30,441.00 C547.78,440.67 552.55,439.50 556.70,439.00 C560.85,438.50 564.37,438.47 568.20,438.00 C572.03,437.53 575.57,435.87 579.70,436.20 C583.83,436.53 590.78,439.37 593.00,440.00" fill="none" stroke="#9a9a28" stroke-width="1.8"/>
<path d="M345.00,426.00 C346.67,425.72 351.67,423.60 355.00,424.30 C358.33,425.00 361.80,430.05 365.00,430.20 C368.20,430.35 370.87,426.90 374.20,425.20 C377.53,423.50 381.67,421.53 385.00,420.00 C388.33,418.47 390.98,417.23 394.20,416.00 C397.42,414.77 401.10,412.47 404.30,412.60 C407.50,412.73 411.12,415.73 413.40,416.80 C415.68,417.87 416.30,419.40 418.00,419.00 C419.70,418.60 421.07,419.98 423.60,414.40 C426.13,408.82 429.80,397.93 433.20,385.50 C436.60,373.07 440.98,353.03 444.00,339.80 C447.02,326.57 448.08,296.87 451.30,306.10 C454.52,315.33 460.10,375.55 463.30,395.20 C466.50,414.85 467.72,417.65 470.50,424.00 C473.28,430.35 476.50,430.63 480.00,433.30 C483.50,435.97 487.67,440.32 491.50,440.00 C495.33,439.68 499.17,432.98 503.00,431.40 C506.83,429.82 511.00,430.18 514.50,430.50 C518.00,430.82 520.80,432.35 524.00,433.30 C527.20,434.25 530.48,436.52 533.70,436.20 C536.92,435.88 540.12,432.52 543.30,431.40 C546.48,430.28 549.62,428.07 552.80,429.50 C555.98,430.93 559.20,440.00 562.40,440.00 C565.60,440.00 569.12,430.28 572.00,429.50 C574.88,428.72 576.20,433.22 579.70,435.30 C583.20,437.38 590.78,440.88 593.00,442.00" fill="none" stroke="#2020c0" stroke-width="1.8"/>
<path d="M345.00,428.00 C346.67,428.33 351.67,430.17 355.00,430.00 C358.33,429.83 361.67,428.00 365.00,427.00 C368.33,426.00 371.80,425.00 375.00,424.00 C378.20,423.00 380.87,420.25 384.20,421.00 C387.53,421.75 391.65,425.87 395.00,428.50 C398.35,431.13 401.23,435.83 404.30,436.80 C407.37,437.77 410.20,436.52 413.40,434.30 C416.60,432.08 421.07,425.05 423.50,423.50 C425.93,421.95 425.75,432.25 428.00,425.00 C430.25,417.75 434.33,395.00 437.00,380.00 C439.67,365.00 441.42,346.72 444.00,335.00 C446.58,323.28 450.17,308.87 452.50,309.70 C454.83,310.53 456.20,325.95 458.00,340.00 C459.80,354.05 461.22,382.40 463.30,394.00 C465.38,405.60 467.68,404.20 470.50,409.60 C473.32,415.00 476.70,421.33 480.20,426.40 C483.70,431.47 487.70,438.07 491.50,440.00 C495.30,441.93 499.33,438.95 503.00,438.00 C506.67,437.05 510.00,436.03 513.50,434.30 C517.00,432.57 520.63,430.32 524.00,427.60 C527.37,424.88 530.48,418.97 533.70,418.00 C536.92,417.03 540.42,419.57 543.30,421.80 C546.18,424.03 548.13,429.32 551.00,431.40 C553.87,433.48 557.33,434.93 560.50,434.30 C563.67,433.67 566.75,427.32 570.00,427.60 C573.25,427.88 576.83,433.60 580.00,436.00 C583.17,438.40 586.83,441.17 589.00,442.00 C591.17,442.83 592.33,441.17 593.00,441.00" fill="none" stroke="#6e1020" stroke-width="1.8"/>
<path d="M345.00,431.80 C346.67,431.53 351.67,430.20 355.00,430.20 C358.33,430.20 360.00,432.63 365.00,431.80 C370.00,430.97 380.00,426.58 385.00,425.20 C390.00,423.82 390.27,424.62 395.00,423.50 C399.73,422.38 408.65,419.08 413.40,418.50 C418.15,417.92 420.43,418.88 423.50,420.00 C426.57,421.12 429.98,425.93 431.80,425.20 C433.62,424.47 432.37,426.43 434.40,415.60 C436.43,404.78 441.27,378.30 444.00,360.25 C446.73,342.20 448.63,313.18 450.80,307.30 C452.97,301.43 454.92,316.38 457.00,325.00 C459.08,333.62 460.63,346.90 463.30,359.00 C465.97,371.10 469.72,387.10 473.00,397.60 C476.28,408.10 479.92,415.10 483.00,422.00 C486.08,428.90 487.83,436.50 491.50,439.00 C495.17,441.50 499.88,438.27 505.00,437.00 C510.12,435.73 517.53,432.23 522.20,431.40 C526.87,430.57 529.48,430.73 533.00,432.00 C536.52,433.27 539.47,439.33 543.30,439.00 C547.13,438.67 551.85,433.17 556.00,430.00 C560.15,426.83 564.25,420.40 568.20,420.00 C572.15,419.60 575.57,427.30 579.70,427.60 C583.83,427.90 590.78,422.77 593.00,421.80" fill="none" stroke="#188a28" stroke-width="1.8"/>
<path d="M345.00,426.00 C346.67,425.45 351.67,423.03 355.00,422.70 C358.33,422.37 360.00,424.85 365.00,424.00 C370.00,423.15 379.43,418.38 385.00,417.60 C390.57,416.82 393.67,419.72 398.40,419.30 C403.13,418.88 409.22,415.52 413.40,415.10 C417.58,414.68 421.07,417.65 423.50,416.80 C425.93,415.95 425.25,421.13 428.00,410.00 C430.75,398.87 435.72,367.72 440.00,350.00 C444.28,332.28 449.62,302.20 453.70,303.70 C457.78,305.20 461.45,344.62 464.50,359.00 C467.55,373.38 469.42,380.80 472.00,390.00 C474.58,399.20 477.38,406.98 480.00,414.20 C482.62,421.42 484.82,428.20 487.70,433.30 C490.58,438.40 493.78,444.15 497.30,444.80 C500.82,445.45 504.65,439.58 508.80,437.20 C512.95,434.82 518.05,430.50 522.20,430.50 C526.35,430.50 529.90,436.95 533.70,437.20 C537.50,437.45 541.17,435.37 545.00,432.00 C548.83,428.63 553.48,418.85 556.70,417.00 C559.92,415.15 561.12,418.50 564.30,420.90 C567.48,423.30 571.97,429.33 575.80,431.40 C579.63,433.47 584.43,433.87 587.30,433.30 C590.17,432.73 592.05,428.88 593.00,428.00" fill="none" stroke="#1aa0a0" stroke-width="1.8"/>
<line x1="481.70" y1="268.30" x2="502.50" y2="268.30" stroke="#101010" stroke-width="1.6" />
<circle cx="492.00" cy="268.30" r="1.71" fill="#101010"/>
<text x="505.80" y="271.10" font-size="9.2" font-weight="normal" text-anchor="start" fill="#111" stroke="#111" stroke-width="0.12" >NTC1</text>
<line x1="481.70" y1="279.92" x2="502.50" y2="279.92" stroke="#e02a24" stroke-width="1.6" />
<rect x="490.56" y="278.48" width="2.88" height="2.88" fill="#e02a24"/>
<text x="505.80" y="282.72" font-size="9.2" font-weight="normal" text-anchor="start" fill="#111" stroke="#111" stroke-width="0.12" >NTC2</text>
<line x1="481.70" y1="291.54" x2="502.50" y2="291.54" stroke="#9a9a28" stroke-width="1.6" />
<path d="M492.00,289.74 L493.80,292.98 L490.20,292.98Z" fill="#9a9a28"/>
<text x="505.80" y="294.34" font-size="9.2" font-weight="normal" text-anchor="start" fill="#111" stroke="#111" stroke-width="0.12" >PC1</text>
<line x1="481.70" y1="303.16" x2="502.50" y2="303.16" stroke="#2020c0" stroke-width="1.6" />
<path d="M492.00,304.96 L493.80,301.72 L490.20,301.72Z" fill="#2020c0"/>
<text x="505.80" y="305.96" font-size="9.2" font-weight="normal" text-anchor="start" fill="#111" stroke="#111" stroke-width="0.12" >PC2</text>
<line x1="481.70" y1="314.78" x2="502.50" y2="314.78" stroke="#6e1020" stroke-width="1.6" />
<path d="M492.00,312.98 L493.80,314.78 L492.00,316.58 L490.20,314.78Z" fill="#6e1020"/>
<text x="505.80" y="317.58" font-size="9.2" font-weight="normal" text-anchor="start" fill="#111" stroke="#111" stroke-width="0.12" >PC3</text>
<line x1="481.70" y1="326.40" x2="502.50" y2="326.40" stroke="#188a28" stroke-width="1.6" />
<path d="M490.20,326.40 L493.44,324.60 L493.44,328.20Z" fill="#188a28"/>
<text x="505.80" y="329.20" font-size="9.2" font-weight="normal" text-anchor="start" fill="#111" stroke="#111" stroke-width="0.12" >PC4</text>
<line x1="481.70" y1="338.02" x2="502.50" y2="338.02" stroke="#1aa0a0" stroke-width="1.6" />
<circle cx="492.00" cy="338.02" r="1.62" fill="#fff" stroke="#1aa0a0" stroke-width="0.9"/>
<text x="505.80" y="340.82" font-size="9.2" font-weight="normal" text-anchor="start" fill="#111" stroke="#111" stroke-width="0.12" >PC5</text>
<text x="349.20" y="275.30" font-size="18" font-weight="bold" text-anchor="start" fill="#111" >(d)</text>
<rect x="344.80" y="257.50" width="248.20" height="195.30" fill="none" stroke="#1e1e1e" stroke-width="1.4"/>
<text x="65.00" y="496.10" font-size="18" font-weight="bold" text-anchor="start" fill="#111" >(e)</text>
<rect x="66" y="504" width="37.5" height="230" fill="#e4e1d6"/>
<rect x="66" y="504" width="2" height="230" fill="#5a5a5a"/>
<rect x="103.3" y="504" width="195.7" height="230" fill="#020202"/>
<rect x="109.50" y="504" width="19.40" height="230" fill="#0a0a0a"/>
<rect x="130.70" y="504" width="19.40" height="230" fill="#050505"/>
<rect x="152.00" y="504" width="19.40" height="230" fill="#050505"/>
<rect x="173.20" y="504" width="19.40" height="230" fill="#050505"/>
<rect x="194.40" y="504" width="19.40" height="230" fill="#151515"/>
<rect x="215.60" y="504" width="19.40" height="230" fill="#050505"/>
<rect x="236.80" y="504" width="19.40" height="230" fill="#050505"/>
<rect x="258.00" y="504" width="19.40" height="230" fill="#050505"/>
<rect x="279.20" y="504" width="19.40" height="230" fill="#050505"/>
<text x="70.0" y="524.3" font-size="15.5" font-weight="bold" fill="#151515" textLength="30.5" lengthAdjust="spacingAndGlyphs">[bp]</text>
<text x="117.60" y="526.90" font-size="16.5" font-weight="normal" text-anchor="middle" fill="#f0f0f0" >L</text>
<text x="140.40" y="526.90" font-size="16.5" font-weight="normal" text-anchor="middle" fill="#f0f0f0" >1</text>
<text x="161.70" y="526.90" font-size="16.5" font-weight="normal" text-anchor="middle" fill="#f0f0f0" >2</text>
<text x="182.90" y="526.90" font-size="16.5" font-weight="normal" text-anchor="middle" fill="#f0f0f0" >3</text>
<text x="204.10" y="526.90" font-size="16.5" font-weight="normal" text-anchor="middle" fill="#f0f0f0" >4</text>
<text x="225.30" y="526.90" font-size="16.5" font-weight="normal" text-anchor="middle" fill="#f0f0f0" >5</text>
<text x="246.50" y="526.90" font-size="16.5" font-weight="normal" text-anchor="middle" fill="#f0f0f0" >6</text>
<text x="267.70" y="526.90" font-size="16.5" font-weight="normal" text-anchor="middle" fill="#f0f0f0" >7</text>
<text x="288.90" y="526.90" font-size="16.5" font-weight="normal" text-anchor="middle" fill="#f0f0f0" >8</text>
<line x1="96.00" y1="541.20" x2="103.00" y2="541.20" stroke="#222" stroke-width="1.3" />
<text x="71.70" y="545.00" font-size="10.8" fill="#1a1a1a" stroke="#1a1a1a" stroke-width="0.25" textLength="19.6" lengthAdjust="spacingAndGlyphs">600</text>
<line x1="96.00" y1="555.00" x2="103.00" y2="555.00" stroke="#222" stroke-width="1.3" />
<text x="71.70" y="558.80" font-size="10.8" fill="#1a1a1a" stroke="#1a1a1a" stroke-width="0.25" textLength="19.6" lengthAdjust="spacingAndGlyphs">500</text>
<line x1="96.00" y1="574.30" x2="103.00" y2="574.30" stroke="#222" stroke-width="1.3" />
<text x="71.70" y="578.10" font-size="10.8" fill="#1a1a1a" stroke="#1a1a1a" stroke-width="0.25" textLength="19.6" lengthAdjust="spacingAndGlyphs">400</text>
<line x1="96.00" y1="601.30" x2="103.00" y2="601.30" stroke="#222" stroke-width="1.3" />
<text x="71.70" y="605.10" font-size="10.8" fill="#1a1a1a" stroke="#1a1a1a" stroke-width="0.25" textLength="19.6" lengthAdjust="spacingAndGlyphs">300</text>
<line x1="96.00" y1="616.70" x2="103.00" y2="616.70" stroke="#222" stroke-width="1.3" />
<text x="71.70" y="620.50" font-size="10.8" fill="#1a1a1a" stroke="#1a1a1a" stroke-width="0.25" textLength="19.6" lengthAdjust="spacingAndGlyphs">250</text>
<line x1="96.00" y1="633.20" x2="103.00" y2="633.20" stroke="#222" stroke-width="1.3" />
<text x="71.70" y="637.00" font-size="10.8" fill="#1a1a1a" stroke="#1a1a1a" stroke-width="0.25" textLength="19.6" lengthAdjust="spacingAndGlyphs">200</text>
<line x1="96.00" y1="650.50" x2="103.00" y2="650.50" stroke="#222" stroke-width="1.3" />
<text x="71.70" y="654.30" font-size="10.8" fill="#1a1a1a" stroke="#1a1a1a" stroke-width="0.25" textLength="19.6" lengthAdjust="spacingAndGlyphs">150</text>
<line x1="96.00" y1="667.20" x2="103.00" y2="667.20" stroke="#222" stroke-width="1.3" />
<text x="71.70" y="671.00" font-size="10.8" fill="#1a1a1a" stroke="#1a1a1a" stroke-width="0.25" textLength="19.6" lengthAdjust="spacingAndGlyphs">100</text>
<line x1="96.00" y1="683.70" x2="103.00" y2="683.70" stroke="#222" stroke-width="1.3" />
<text x="78.30" y="687.50" font-size="10.8" fill="#1a1a1a" stroke="#1a1a1a" stroke-width="0.25" textLength="13.0" lengthAdjust="spacingAndGlyphs">50</text>
<line x1="96.00" y1="701.60" x2="103.00" y2="701.60" stroke="#222" stroke-width="1.3" />
<text x="78.30" y="705.40" font-size="10.8" fill="#1a1a1a" stroke="#1a1a1a" stroke-width="0.25" textLength="13.0" lengthAdjust="spacingAndGlyphs">15</text>
<rect x="110.00" y="537.5" width="18.40" height="2" fill="#c8a0e8" opacity="0.8"/>
<rect x="110.00" y="539.3" width="18.40" height="3.6" fill="#a22ee2"/>
<rect x="110.00" y="698.8" width="18.40" height="5.6" fill="#155515"/>
<rect x="110.00" y="700.0" width="18.40" height="3.3" fill="#2ea82e"/>
<rect x="131.20" y="537.5" width="18.40" height="2" fill="#c8a0e8" opacity="0.8"/>
<rect x="131.20" y="539.3" width="18.40" height="3.6" fill="#a22ee2"/>
<rect x="131.20" y="698.8" width="18.40" height="5.6" fill="#155515"/>
<rect x="131.20" y="700.0" width="18.40" height="3.3" fill="#2ea82e"/>
<rect x="152.50" y="537.5" width="18.40" height="2" fill="#c8a0e8" opacity="0.8"/>
<rect x="152.50" y="539.3" width="18.40" height="3.6" fill="#a22ee2"/>
<rect x="152.50" y="698.8" width="18.40" height="5.6" fill="#155515"/>
<rect x="152.50" y="700.0" width="18.40" height="3.3" fill="#2ea82e"/>
<rect x="173.70" y="537.5" width="18.40" height="2" fill="#c8a0e8" opacity="0.8"/>
<rect x="173.70" y="539.3" width="18.40" height="3.6" fill="#a22ee2"/>
<rect x="173.70" y="698.8" width="18.40" height="5.6" fill="#155515"/>
<rect x="173.70" y="700.0" width="18.40" height="3.3" fill="#2ea82e"/>
<rect x="194.90" y="537.5" width="18.40" height="2" fill="#c8a0e8" opacity="0.8"/>
<rect x="194.90" y="539.3" width="18.40" height="3.6" fill="#a22ee2"/>
<rect x="194.90" y="698.8" width="18.40" height="5.6" fill="#155515"/>
<rect x="194.90" y="700.0" width="18.40" height="3.3" fill="#2ea82e"/>
<rect x="216.10" y="537.5" width="18.40" height="2" fill="#c8a0e8" opacity="0.8"/>
<rect x="216.10" y="539.3" width="18.40" height="3.6" fill="#a22ee2"/>
<rect x="216.10" y="698.8" width="18.40" height="5.6" fill="#155515"/>
<rect x="216.10" y="700.0" width="18.40" height="3.3" fill="#2ea82e"/>
<rect x="237.30" y="537.5" width="18.40" height="2" fill="#c8a0e8" opacity="0.8"/>
<rect x="237.30" y="539.3" width="18.40" height="3.6" fill="#a22ee2"/>
<rect x="237.30" y="698.8" width="18.40" height="5.6" fill="#155515"/>
<rect x="237.30" y="700.0" width="18.40" height="3.3" fill="#2ea82e"/>
<rect x="258.50" y="537.5" width="18.40" height="2" fill="#c8a0e8" opacity="0.8"/>
<rect x="258.50" y="539.3" width="18.40" height="3.6" fill="#a22ee2"/>
<rect x="258.50" y="698.8" width="18.40" height="5.6" fill="#155515"/>
<rect x="258.50" y="700.0" width="18.40" height="3.3" fill="#2ea82e"/>
<rect x="279.70" y="537.5" width="18.40" height="2" fill="#c8a0e8" opacity="0.8"/>
<rect x="279.70" y="539.3" width="18.40" height="3.6" fill="#a22ee2"/>
<rect x="279.70" y="698.8" width="18.40" height="5.6" fill="#155515"/>
<rect x="279.70" y="700.0" width="18.40" height="3.3" fill="#2ea82e"/>
<rect x="110.00" y="552.80" width="18.40" height="4.4" fill="#6a6a6a" opacity="0.45"/>
<rect x="110.00" y="554.00" width="18.40" height="2" fill="#d0d0d0"/>
<rect x="110.00" y="572.10" width="18.40" height="4.4" fill="#6a6a6a" opacity="0.45"/>
<rect x="110.00" y="573.30" width="18.40" height="2" fill="#d0d0d0"/>
<rect x="110.00" y="599.10" width="18.40" height="4.4" fill="#6a6a6a" opacity="0.45"/>
<rect x="110.00" y="600.30" width="18.40" height="2" fill="#d0d0d0"/>
<rect x="110.00" y="614.50" width="18.40" height="4.4" fill="#6a6a6a" opacity="0.45"/>
<rect x="110.00" y="615.70" width="18.40" height="2" fill="#d0d0d0"/>
<rect x="110.00" y="631.00" width="18.40" height="4.4" fill="#6a6a6a" opacity="0.45"/>
<rect x="110.00" y="632.20" width="18.40" height="2" fill="#d0d0d0"/>
<rect x="110.00" y="648.30" width="18.40" height="4.4" fill="#6a6a6a" opacity="0.45"/>
<rect x="110.00" y="649.50" width="18.40" height="2" fill="#d0d0d0"/>
<rect x="110.00" y="665.00" width="18.40" height="4.4" fill="#6a6a6a" opacity="0.45"/>
<rect x="110.00" y="666.20" width="18.40" height="2" fill="#d0d0d0"/>
<rect x="110.00" y="681.50" width="18.40" height="4.4" fill="#6a6a6a" opacity="0.45"/>
<rect x="110.00" y="682.70" width="18.40" height="2" fill="#d0d0d0"/>
<rect x="110.00" y="692.20" width="18.40" height="4.4" fill="#6a6a6a" opacity="0.45"/>
<rect x="110.00" y="693.40" width="18.40" height="2" fill="#d0d0d0"/>
<rect x="131.20" y="682.3" width="18.40" height="6" fill="#808080" opacity="0.45"/>
<rect x="131.20" y="683.8" width="18.40" height="3" fill="#ffffff"/>
<rect x="194.90" y="682.3" width="18.40" height="6" fill="#808080" opacity="0.45"/>
<rect x="194.90" y="683.8" width="18.40" height="3" fill="#ffffff"/>
<rect x="152.50" y="669.7" width="18.40" height="6" fill="#808080" opacity="0.45"/>
<rect x="152.50" y="671.2" width="18.40" height="3" fill="#ffffff"/>
<rect x="173.70" y="669.7" width="18.40" height="6" fill="#808080" opacity="0.45"/>
<rect x="173.70" y="671.2" width="18.40" height="3" fill="#ffffff"/>
<rect x="216.10" y="669.7" width="18.40" height="6" fill="#808080" opacity="0.45"/>
<rect x="216.10" y="671.2" width="18.40" height="3" fill="#ffffff"/>
<rect x="237.30" y="669.7" width="18.40" height="6" fill="#808080" opacity="0.45"/>
<rect x="237.30" y="671.2" width="18.40" height="3" fill="#ffffff"/>
<rect x="258.50" y="669.7" width="18.40" height="6" fill="#808080" opacity="0.45"/>
<rect x="258.50" y="671.2" width="18.40" height="3" fill="#ffffff"/>
<rect x="279.70" y="669.7" width="18.40" height="6" fill="#808080" opacity="0.45"/>
<rect x="279.70" y="671.2" width="18.40" height="3" fill="#ffffff"/>
<line x1="370.20" y1="711.50" x2="376.20" y2="711.50" stroke="#1e1e1e" stroke-width="1.1" />
<text x="366.00" y="714.80" font-size="9.6" font-weight="bold" text-anchor="end" fill="#111" >0</text>
<line x1="373.20" y1="691.35" x2="376.20" y2="691.35" stroke="#1e1e1e" stroke-width="1.1" />
<line x1="370.20" y1="671.20" x2="376.20" y2="671.20" stroke="#1e1e1e" stroke-width="1.1" />
<text x="366.00" y="674.50" font-size="9.6" font-weight="bold" text-anchor="end" fill="#111" >2</text>
<line x1="373.20" y1="651.05" x2="376.20" y2="651.05" stroke="#1e1e1e" stroke-width="1.1" />
<line x1="370.20" y1="630.90" x2="376.20" y2="630.90" stroke="#1e1e1e" stroke-width="1.1" />
<text x="366.00" y="634.20" font-size="9.6" font-weight="bold" text-anchor="end" fill="#111" >4</text>
<line x1="373.20" y1="610.75" x2="376.20" y2="610.75" stroke="#1e1e1e" stroke-width="1.1" />
<line x1="370.20" y1="590.60" x2="376.20" y2="590.60" stroke="#1e1e1e" stroke-width="1.1" />
<text x="366.00" y="593.90" font-size="9.6" font-weight="bold" text-anchor="end" fill="#111" >6</text>
<line x1="373.20" y1="570.45" x2="376.20" y2="570.45" stroke="#1e1e1e" stroke-width="1.1" />
<line x1="370.20" y1="550.30" x2="376.20" y2="550.30" stroke="#1e1e1e" stroke-width="1.1" />
<text x="366.00" y="553.60" font-size="9.6" font-weight="bold" text-anchor="end" fill="#111" >8</text>
<line x1="373.20" y1="530.15" x2="376.20" y2="530.15" stroke="#1e1e1e" stroke-width="1.1" />
<line x1="370.20" y1="510.00" x2="376.20" y2="510.00" stroke="#1e1e1e" stroke-width="1.1" />
<text x="366.00" y="513.30" font-size="9.6" font-weight="bold" text-anchor="end" fill="#111" >10</text>
<text x="371.50" y="500.60" font-size="18" font-weight="bold" text-anchor="start" fill="#111" >(f)</text>
<text transform="translate(352.6,608.8) rotate(-90)" font-size="14.3" text-anchor="middle" fill="#111" stroke="#111" stroke-width="0.25" textLength="179" lengthAdjust="spacingAndGlyphs">Mean amplicon yield (ng/µl)</text>
<rect x="389.10" y="578.51" width="38.2" height="132.99" fill="#7f7f7f" stroke="#2ed6d6" stroke-width="1.6"/>
<line x1="408.20" y1="571.86" x2="408.20" y2="586.57" stroke="#151515" stroke-width="1.5" />
<line x1="404.90" y1="571.86" x2="411.50" y2="571.86" stroke="#151515" stroke-width="1.4" />
<line x1="404.90" y1="586.57" x2="411.50" y2="586.57" stroke="#151515" stroke-width="1.4" />
<line x1="408.20" y1="711.50" x2="408.20" y2="717.00" stroke="#1e1e1e" stroke-width="1.1" />
<rect x="452.70" y="574.48" width="38.2" height="137.02" fill="#7f7f7f" stroke="#2ed6d6" stroke-width="1.6"/>
<line x1="471.80" y1="571.66" x2="471.80" y2="577.30" stroke="#151515" stroke-width="1.5" />
<line x1="468.50" y1="571.66" x2="475.10" y2="571.66" stroke="#151515" stroke-width="1.4" />
<line x1="468.50" y1="577.30" x2="475.10" y2="577.30" stroke="#151515" stroke-width="1.4" />
<line x1="471.80" y1="711.50" x2="471.80" y2="717.00" stroke="#1e1e1e" stroke-width="1.1" />
<rect x="517.40" y="576.50" width="38.2" height="135.00" fill="#7f7f7f" stroke="#2ed6d6" stroke-width="1.6"/>
<line x1="536.50" y1="573.27" x2="536.50" y2="579.72" stroke="#151515" stroke-width="1.5" />
<line x1="533.20" y1="573.27" x2="539.80" y2="573.27" stroke="#151515" stroke-width="1.4" />
<line x1="533.20" y1="579.72" x2="539.80" y2="579.72" stroke="#151515" stroke-width="1.4" />
<line x1="536.50" y1="711.50" x2="536.50" y2="717.00" stroke="#1e1e1e" stroke-width="1.1" />
<text x="408.20" y="731.80" font-size="12" font-weight="normal" text-anchor="middle" fill="#111" stroke="#111" stroke-width="0.38" >HDA in</text>
<text x="408.20" y="743.50" font-size="12" font-weight="normal" text-anchor="middle" fill="#111" stroke="#111" stroke-width="0.38" >PP tube</text>
<text x="471.40" y="731.80" font-size="12" font-weight="normal" text-anchor="middle" fill="#111" stroke="#111" stroke-width="0.38" >HDA in</text>
<text x="471.40" y="743.50" font-size="12" font-weight="normal" text-anchor="middle" fill="#111" stroke="#111" stroke-width="0.38" >PDMS chip</text>
<text x="542.00" y="731.80" font-size="12" font-weight="normal" text-anchor="middle" fill="#111" stroke="#111" stroke-width="0.38" >PCR in</text>
<text x="542.00" y="743.50" font-size="12" font-weight="normal" text-anchor="middle" fill="#111" stroke="#111" stroke-width="0.38" >PDMS chip</text>
<rect x="376.20" y="510.00" width="192.40" height="201.50" fill="none" stroke="#1e1e1e" stroke-width="1.4"/>
</svg></body></html>
